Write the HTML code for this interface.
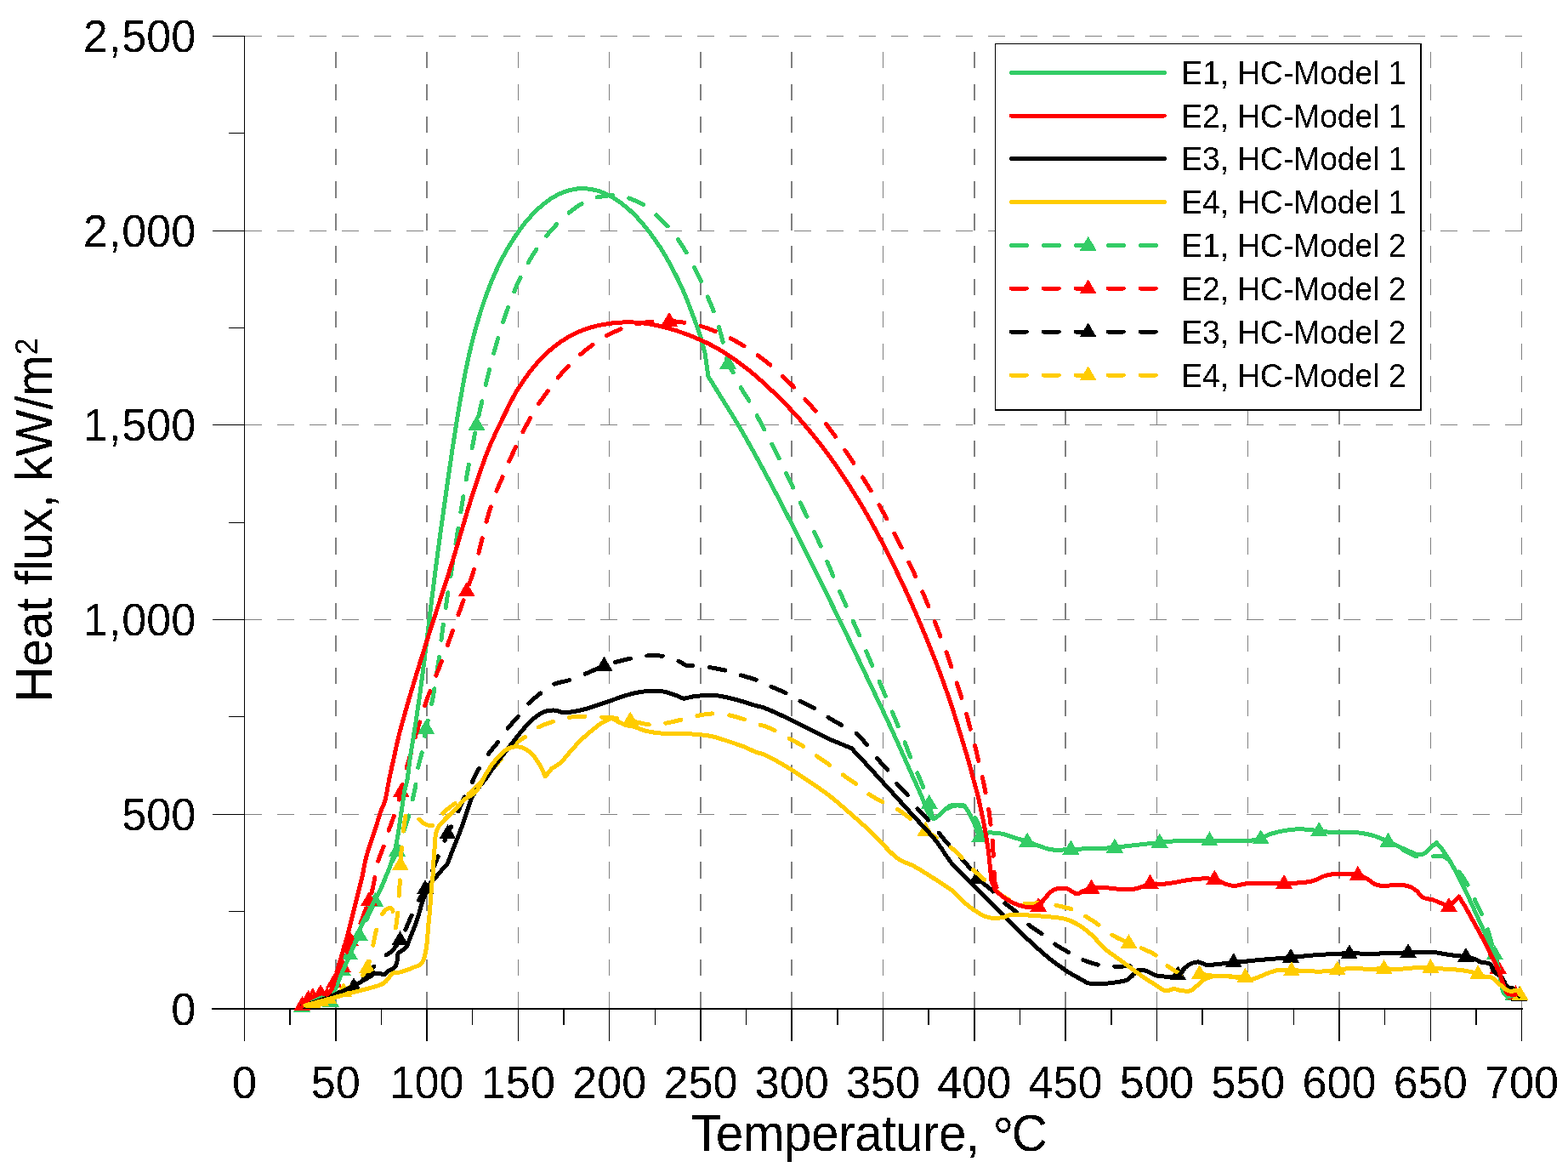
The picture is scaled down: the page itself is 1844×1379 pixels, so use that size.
<!DOCTYPE html>
<html lang="en"><head><meta charset="utf-8"><title>Heat flux vs Temperature</title>
<style>html,body{margin:0;padding:0;background:#fff;}body{width:1844px;height:1379px;overflow:hidden;}svg{display:block;}text{font-family:"Liberation Sans", sans-serif;fill:#000;}</style>
</head><body>
<svg width="1844" height="1379" viewBox="0 0 1844 1379">
<defs><filter id="bw" x="0" y="0" width="1844" height="1379" filterUnits="userSpaceOnUse" color-interpolation-filters="sRGB"><feComponentTransfer><feFuncA type="discrete" tableValues="0 1"/></feComponentTransfer></filter></defs>
<rect x="0" y="0" width="1844" height="1379" fill="#ffffff"/>
<g id="grid" fill="none" stroke="#808080" shape-rendering="crispEdges">
<line x1="288.0" y1="957.5" x2="1790.5" y2="957.5" stroke-width="1" stroke-dasharray="20 18"/>
<line x1="288.0" y1="728.5" x2="1790.5" y2="728.5" stroke-width="1" stroke-dasharray="20 18"/>
<line x1="288.0" y1="499.5" x2="1790.5" y2="499.5" stroke-width="1" stroke-dasharray="20 18"/>
<line x1="288.0" y1="271.5" x2="1790.5" y2="271.5" stroke-width="1" stroke-dasharray="20 18"/>
<line x1="288.0" y1="42.5" x2="1790.5" y2="42.5" stroke-width="1" stroke-dasharray="20 18"/>
<line x1="395.0" y1="1185.0" x2="395.0" y2="42.5" stroke-width="2" stroke-dasharray="19.3 18.8"/>
<line x1="502.0" y1="1185.0" x2="502.0" y2="42.5" stroke-width="2" stroke-dasharray="19.3 18.8"/>
<line x1="609.5" y1="1185.0" x2="609.5" y2="42.5" stroke-width="1" stroke-dasharray="19.3 18.8"/>
<line x1="716.5" y1="1185.0" x2="716.5" y2="42.5" stroke-width="1" stroke-dasharray="19.3 18.8"/>
<line x1="824.0" y1="1185.0" x2="824.0" y2="42.5" stroke-width="2" stroke-dasharray="19.3 18.8"/>
<line x1="931.0" y1="1185.0" x2="931.0" y2="42.5" stroke-width="2" stroke-dasharray="19.3 18.8"/>
<line x1="1038.5" y1="1185.0" x2="1038.5" y2="42.5" stroke-width="1" stroke-dasharray="19.3 18.8"/>
<line x1="1146.0" y1="1185.0" x2="1146.0" y2="42.5" stroke-width="2" stroke-dasharray="19.3 18.8"/>
<line x1="1253.0" y1="1185.0" x2="1253.0" y2="42.5" stroke-width="2" stroke-dasharray="19.3 18.8"/>
<line x1="1360.5" y1="1185.0" x2="1360.5" y2="42.5" stroke-width="1" stroke-dasharray="19.3 18.8"/>
<line x1="1467.5" y1="1185.0" x2="1467.5" y2="42.5" stroke-width="1" stroke-dasharray="19.3 18.8"/>
<line x1="1575.0" y1="1185.0" x2="1575.0" y2="42.5" stroke-width="2" stroke-dasharray="19.3 18.8"/>
<line x1="1682.5" y1="1185.0" x2="1682.5" y2="42.5" stroke-width="1" stroke-dasharray="19.3 18.8"/>
<line x1="1789.5" y1="1185.0" x2="1789.5" y2="42.5" stroke-width="1" stroke-dasharray="19.3 18.8"/>
</g>
<g id="axes" fill="none" stroke="#000" stroke-width="1" shape-rendering="crispEdges">
<line x1="287.5" y1="42.0" x2="287.5" y2="1224.0"/>
<line x1="249.0" y1="1186.0" x2="1790.5" y2="1186.0" stroke-width="2"/>
<line x1="268.5" y1="1071.5" x2="288.0" y2="1071.5"/>
<line x1="249.5" y1="957.5" x2="288.0" y2="957.5"/>
<line x1="268.5" y1="842.5" x2="288.0" y2="842.5"/>
<line x1="249.5" y1="728.5" x2="288.0" y2="728.5"/>
<line x1="268.5" y1="614.5" x2="288.0" y2="614.5"/>
<line x1="249.5" y1="499.5" x2="288.0" y2="499.5"/>
<line x1="268.5" y1="385.5" x2="288.0" y2="385.5"/>
<line x1="249.5" y1="271.5" x2="288.0" y2="271.5"/>
<line x1="268.5" y1="156.5" x2="288.0" y2="156.5"/>
<line x1="249.5" y1="42.5" x2="288.0" y2="42.5"/>
<line x1="341.0" y1="1186.0" x2="341.0" y2="1205.0" stroke-width="2"/>
<line x1="395.0" y1="1186.0" x2="395.0" y2="1224.0" stroke-width="2"/>
<line x1="448.5" y1="1186.0" x2="448.5" y2="1205.0" stroke-width="1"/>
<line x1="502.0" y1="1186.0" x2="502.0" y2="1224.0" stroke-width="2"/>
<line x1="555.5" y1="1186.0" x2="555.5" y2="1205.0" stroke-width="1"/>
<line x1="609.5" y1="1186.0" x2="609.5" y2="1224.0" stroke-width="1"/>
<line x1="663.0" y1="1186.0" x2="663.0" y2="1205.0" stroke-width="2"/>
<line x1="716.5" y1="1186.0" x2="716.5" y2="1224.0" stroke-width="1"/>
<line x1="770.5" y1="1186.0" x2="770.5" y2="1205.0" stroke-width="1"/>
<line x1="824.0" y1="1186.0" x2="824.0" y2="1224.0" stroke-width="2"/>
<line x1="877.5" y1="1186.0" x2="877.5" y2="1205.0" stroke-width="1"/>
<line x1="931.0" y1="1186.0" x2="931.0" y2="1224.0" stroke-width="2"/>
<line x1="985.0" y1="1186.0" x2="985.0" y2="1205.0" stroke-width="2"/>
<line x1="1038.5" y1="1186.0" x2="1038.5" y2="1224.0" stroke-width="1"/>
<line x1="1092.0" y1="1186.0" x2="1092.0" y2="1205.0" stroke-width="2"/>
<line x1="1146.0" y1="1186.0" x2="1146.0" y2="1224.0" stroke-width="2"/>
<line x1="1199.5" y1="1186.0" x2="1199.5" y2="1205.0" stroke-width="1"/>
<line x1="1253.0" y1="1186.0" x2="1253.0" y2="1224.0" stroke-width="2"/>
<line x1="1307.0" y1="1186.0" x2="1307.0" y2="1205.0" stroke-width="2"/>
<line x1="1360.5" y1="1186.0" x2="1360.5" y2="1224.0" stroke-width="1"/>
<line x1="1414.0" y1="1186.0" x2="1414.0" y2="1205.0" stroke-width="2"/>
<line x1="1467.5" y1="1186.0" x2="1467.5" y2="1224.0" stroke-width="1"/>
<line x1="1521.5" y1="1186.0" x2="1521.5" y2="1205.0" stroke-width="1"/>
<line x1="1575.0" y1="1186.0" x2="1575.0" y2="1224.0" stroke-width="2"/>
<line x1="1628.5" y1="1186.0" x2="1628.5" y2="1205.0" stroke-width="1"/>
<line x1="1682.5" y1="1186.0" x2="1682.5" y2="1224.0" stroke-width="1"/>
<line x1="1736.0" y1="1186.0" x2="1736.0" y2="1205.0" stroke-width="2"/>
<line x1="1789.5" y1="1186.0" x2="1789.5" y2="1224.0" stroke-width="1"/>
</g>
<g id="ticklabels" filter="url(#bw)">
<text transform="translate(230.30 1204.60) scale(1 1.045)" font-size="52.2" text-anchor="end">0</text>
<text transform="translate(230.30 975.90) scale(1 1.045)" font-size="52.2" text-anchor="end">500</text>
<text transform="translate(230.30 747.20) scale(1 1.045)" font-size="52.2" text-anchor="end"><tspan letter-spacing="1">1,</tspan>000</text>
<text transform="translate(230.30 518.50) scale(1 1.045)" font-size="52.2" text-anchor="end"><tspan letter-spacing="1">1,</tspan>500</text>
<text transform="translate(230.30 289.80) scale(1 1.045)" font-size="52.2" text-anchor="end"><tspan letter-spacing="1">2,</tspan>000</text>
<text transform="translate(230.30 61.10) scale(1 1.045)" font-size="52.2" text-anchor="end"><tspan letter-spacing="1">2,</tspan>500</text>
<text transform="translate(287.50 1290.50) scale(1 1.045)" font-size="52.2" text-anchor="middle">0</text>
<text transform="translate(394.79 1290.50) scale(1 1.045)" font-size="52.2" text-anchor="middle">50</text>
<text transform="translate(502.08 1290.50) scale(1 1.045)" font-size="52.2" text-anchor="middle">100</text>
<text transform="translate(609.37 1290.50) scale(1 1.045)" font-size="52.2" text-anchor="middle">150</text>
<text transform="translate(716.66 1290.50) scale(1 1.045)" font-size="52.2" text-anchor="middle">200</text>
<text transform="translate(823.95 1290.50) scale(1 1.045)" font-size="52.2" text-anchor="middle">250</text>
<text transform="translate(931.24 1290.50) scale(1 1.045)" font-size="52.2" text-anchor="middle">300</text>
<text transform="translate(1038.53 1290.50) scale(1 1.045)" font-size="52.2" text-anchor="middle">350</text>
<text transform="translate(1145.82 1290.50) scale(1 1.045)" font-size="52.2" text-anchor="middle">400</text>
<text transform="translate(1253.11 1290.50) scale(1 1.045)" font-size="52.2" text-anchor="middle">450</text>
<text transform="translate(1360.40 1290.50) scale(1 1.045)" font-size="52.2" text-anchor="middle">500</text>
<text transform="translate(1467.69 1290.50) scale(1 1.045)" font-size="52.2" text-anchor="middle">550</text>
<text transform="translate(1574.98 1290.50) scale(1 1.045)" font-size="52.2" text-anchor="middle">600</text>
<text transform="translate(1682.27 1290.50) scale(1 1.045)" font-size="52.2" text-anchor="middle">650</text>
<text transform="translate(1789.56 1290.50) scale(1 1.045)" font-size="52.2" text-anchor="middle">700</text>
</g>
<g id="titles" filter="url(#bw)">
<text transform="translate(1022.30 1353.20) scale(1 1.045)" font-size="58.5" text-anchor="middle" id="xtitle" letter-spacing="-0.5">Temperature, <tspan font-size="63" dy="6.5" dx="-0.2">°</tspan><tspan dy="-6.5" dx="-2.2">C</tspan></text>
<text transform="translate(61.30 611.60) rotate(-90) scale(1 1.045)" font-size="58.5" text-anchor="middle" id="ytitle" letter-spacing="-0.3">Heat flux, kW/m<tspan font-size="36" dy="-16.6">2</tspan></text>
</g>
<g id="curves" shape-rendering="crispEdges" fill="none" stroke-width="5.0" stroke-linejoin="round" stroke-linecap="round">
<path d="M354.9 1183.8 C357.1 1183.4 364.1 1182.2 368.0 1181.5 C371.9 1180.8 374.6 1180.2 378.0 1179.5 C381.4 1178.8 385.9 1179.7 388.7 1177.3 C391.5 1174.9 393.3 1169.2 395.0 1165.0 C396.7 1160.8 397.7 1156.0 399.0 1152.0 C400.3 1148.0 401.7 1144.5 403.0 1141.0 C404.3 1137.5 405.7 1134.2 407.0 1131.0 C408.3 1127.8 409.4 1125.3 411.0 1122.0 C412.6 1118.7 414.6 1114.8 416.5 1111.0 C418.4 1107.2 420.0 1104.6 422.6 1099.3 C425.2 1094.0 428.9 1085.6 432.0 1079.0 C435.1 1072.4 438.2 1066.0 441.2 1059.5 C444.2 1053.0 447.2 1046.6 450.0 1040.0 C452.8 1033.4 455.2 1026.6 458.0 1020.0 C460.8 1013.4 464.7 1006.2 467.0 1000.4 C469.3 994.6 470.6 989.2 472.0 985.0 C473.4 980.8 474.0 979.5 475.5 975.0 C477.0 970.5 479.4 963.7 481.0 958.0 C482.6 952.3 483.8 946.5 485.0 941.0 C486.2 935.5 487.4 931.2 488.5 925.0 C489.6 918.8 490.0 910.6 491.4 903.6 C492.8 896.6 495.0 890.6 496.6 882.7 C498.2 874.8 499.1 866.4 501.1 856.4 C503.1 846.4 506.7 832.0 508.6 822.6 C510.4 813.2 511.1 808.0 512.3 800.1 C513.6 792.2 514.7 785.1 516.1 775.1 C517.5 765.1 519.1 750.6 520.5 740.2 C521.9 729.8 523.4 720.2 524.5 712.7 C525.6 705.2 525.8 703.4 527.1 695.0 C528.4 686.7 530.3 675.0 532.3 662.5 C534.3 650.1 537.1 632.2 539.0 620.1 C540.9 608.0 541.9 601.3 543.8 590.0 C545.6 578.8 548.1 564.2 550.2 552.6 C552.3 540.9 554.8 528.9 556.5 520.0 C558.2 511.2 558.9 507.0 560.5 499.5 C562.1 492.0 563.9 484.6 566.1 475.1 C568.3 465.6 570.8 453.8 573.6 442.6 C576.4 431.3 579.6 418.9 582.8 407.7 C586.0 396.4 589.4 385.2 592.7 375.2 C596.1 365.2 599.7 355.6 602.8 347.7 C605.9 339.7 608.2 334.2 611.4 327.6 C614.5 320.9 618.1 314.0 621.7 307.8 C625.3 301.6 629.1 295.8 632.9 290.3 C636.8 284.8 640.9 279.4 644.8 274.8 C648.7 270.1 651.9 266.5 656.2 262.2 C660.5 257.9 666.0 252.8 670.6 249.0 C675.3 245.2 678.9 242.3 684.1 239.5 C689.3 236.6 695.3 233.7 701.8 232.1 C708.2 230.4 716.3 229.5 722.7 229.7 C729.0 229.8 734.2 231.0 739.9 233.0 C745.7 234.9 752.1 238.0 757.3 241.2 C762.5 244.5 766.7 248.3 771.4 252.4 C776.0 256.6 781.1 261.4 785.3 266.1 C789.6 270.9 793.1 275.6 796.9 281.0 C800.7 286.3 804.6 292.4 808.0 298.1 C811.3 303.7 813.9 309.0 816.9 314.9 C819.9 320.8 823.1 327.7 825.7 333.6 C828.4 339.4 830.3 344.5 832.7 350.1 C835.1 355.8 837.8 361.7 839.9 367.6 C842.1 373.4 843.9 379.1 845.7 385.2 C847.5 391.3 848.9 396.9 850.6 404.0 C852.4 411.0 854.2 421.7 856.2 427.5 C858.2 433.3 860.1 433.9 862.7 438.7 C865.3 443.6 868.6 451.0 871.7 456.6 C874.9 462.2 878.4 466.8 881.6 472.4 C884.8 478.0 888.0 484.5 891.0 490.2 C894.0 495.9 896.8 501.0 899.7 506.5 C902.6 512.0 905.5 517.7 908.4 523.4 C911.3 529.1 914.1 534.8 916.9 540.5 C919.7 546.2 922.4 551.8 925.2 557.6 C928.0 563.3 931.2 569.4 933.9 575.1 C936.6 580.7 938.7 585.7 941.3 591.4 C944.0 597.0 947.1 603.2 949.9 609.0 C952.6 614.8 955.3 620.4 958.0 626.2 C960.7 632.0 963.5 638.1 966.0 644.0 C968.6 650.0 970.9 655.9 973.3 661.6 C975.8 667.4 978.1 672.8 980.5 678.6 C983.0 684.3 985.4 690.2 987.9 696.1 C990.5 702.0 993.2 708.1 995.9 714.0 C998.5 719.9 1001.1 725.5 1003.7 731.3 C1006.3 737.1 1008.9 742.9 1011.5 748.7 C1014.0 754.5 1016.5 760.6 1018.9 766.3 C1021.3 771.9 1023.5 776.9 1026.0 782.7 C1028.5 788.5 1031.5 795.2 1034.1 801.2 C1036.7 807.2 1039.1 812.9 1041.6 818.8 C1044.1 824.7 1046.6 830.6 1049.0 836.5 C1051.5 842.3 1053.8 847.7 1056.3 853.8 C1058.8 859.8 1061.5 866.6 1064.0 872.7 C1066.4 878.7 1068.4 884.3 1070.8 890.1 C1073.2 896.0 1075.9 901.8 1078.3 907.6 C1080.8 913.5 1083.2 919.0 1085.6 925.1 C1088.0 931.3 1090.8 938.6 1092.8 944.7 C1094.8 950.8 1095.5 959.9 1097.5 962.0 C1099.5 964.1 1102.1 959.5 1105.0 957.5 C1107.9 955.5 1111.7 951.8 1115.0 950.0 C1118.3 948.2 1121.8 947.2 1125.0 947.0 C1128.2 946.8 1131.3 947.5 1134.0 948.5 C1136.7 949.5 1139.0 951.1 1141.0 953.0 C1143.0 954.9 1144.5 957.5 1146.0 960.0 C1147.5 962.5 1148.8 965.3 1150.0 968.0 C1151.2 970.7 1152.6 973.4 1153.0 976.0 C1153.4 978.6 1152.4 982.2 1152.3 983.5 L1163.1 978.7 C1165.7 979.0 1173.8 979.3 1178.7 980.3 C1183.6 981.3 1187.5 983.1 1192.4 984.6 C1197.3 986.1 1203.2 987.9 1208.1 989.5 C1213.0 991.1 1217.6 992.9 1221.8 994.4 C1226.0 995.9 1229.6 997.5 1233.5 998.3 C1237.5 999.1 1241.0 999.3 1245.3 999.3 C1249.6 999.3 1254.2 998.5 1259.4 998.3 C1264.6 998.1 1270.5 998.1 1276.6 997.9 C1282.7 997.7 1290.5 997.6 1296.2 997.3 C1301.9 997.1 1305.6 996.8 1310.9 996.3 C1316.1 995.9 1321.8 995.0 1327.5 994.4 C1333.2 993.7 1339.1 993.1 1345.1 992.4 C1351.2 991.8 1357.8 991.1 1363.7 990.5 C1369.6 989.9 1373.7 989.2 1380.4 988.9 C1387.0 988.6 1396.8 988.6 1403.8 988.5 C1410.9 988.4 1415.9 988.2 1422.4 988.1 C1429.0 988.1 1436.3 988.1 1443.0 988.1 C1449.7 988.2 1458.1 988.5 1462.6 988.5 C1467.1 988.6 1466.6 988.9 1470.0 988.5 C1473.4 988.1 1478.8 987.3 1482.7 986.0 C1486.6 984.7 1489.1 982.2 1493.5 980.7 C1497.9 979.2 1503.3 977.7 1509.2 976.8 C1515.0 975.8 1521.7 974.8 1528.7 974.8 C1535.7 974.8 1544.7 976.1 1551.2 976.8 C1557.8 977.4 1561.8 978.5 1567.9 978.7 C1573.9 979.0 1581.6 978.2 1587.5 978.3 C1593.3 978.5 1597.9 978.8 1603.1 979.7 C1608.3 980.6 1613.9 982.0 1618.8 983.6 C1623.7 985.3 1627.9 987.3 1632.5 989.5 C1637.0 991.7 1641.9 994.6 1646.2 996.9 C1650.4 999.2 1654.3 1001.7 1657.9 1003.4 C1661.5 1005.1 1664.5 1006.6 1667.7 1007.3 C1671.0 1008.0 1674.0 1007.9 1677.5 1007.7 C1681.0 1007.5 1685.2 1006.6 1688.5 1006.3 C1691.7 1006.1 1695.6 1006.3 1697.1 1006.3 L1704.9 1011.6 C1707.2 1014.5 1714.5 1022.9 1718.6 1028.6 C1722.7 1034.4 1726.4 1040.7 1729.4 1046.3 C1732.3 1051.8 1733.6 1056.2 1736.2 1061.9 C1738.8 1067.6 1742.6 1074.6 1745.0 1080.5 C1747.5 1086.4 1748.8 1090.3 1750.9 1097.2 C1753.0 1104.0 1755.9 1115.3 1757.8 1121.6 C1759.6 1127.9 1760.8 1130.8 1762.0 1135.0 C1763.2 1139.2 1764.2 1143.2 1765.0 1147.0 C1765.8 1150.8 1766.2 1154.7 1767.0 1158.0 C1767.8 1161.3 1768.5 1164.8 1769.5 1167.0 C1770.5 1169.2 1771.3 1170.5 1773.0 1171.0 C1774.7 1171.5 1778.4 1170.2 1779.5 1170.0" stroke="#33CC66" stroke-dasharray="18.3 19.8 18.3 19.8 18.3 19.8 18.3 19.8 18.3 19.8 18.3 19.8 18.3 19.8 18.3 19.8 18.3 19.8 18.3 19.8 18.3 19.8 18.3 19.8 18.3 19.8 18.3 19.8 18.3 19.8 18.3 19.8 18.3 19.8 18.3 19.8 18.3 19.8 18.3 19.8 18.3 19.8 18.3 19.8 18.3 19.8 18.3 19.8 18.3 19.8 18.3 19.8 18.3 19.8 18.3 19.8 18.3 19.8 18.3 19.8 18.3 19.8 18.3 19.8 18.3 19.8 18.3 19.8 18.3 19.8 18.3 19.8 18.3 19.8 18.3 19.8 18.3 19.8 18.3 19.8 18.3 19.8 18.3 19.8 18.3 19.8 18.3 19.8 18.3 20.5 18.3 20.5 18.3 20.5 18.3 20.5 18.3 20.5 18.3 20.5 18.3 20.5 18.3 20.5 18.3 19.7 18.3 19.7 18.3 19.7 18.3 19.7 18.3 19.7 18.3 19.7 18.3 19.7 18.3 19.7 18.3 19.7 18.3 19.7 18.3 19.7 18.3 19.7 18.3 19.7 18.3 19.7 18.3 19.7 18.3 19.8 18.3 19.8 18.3 19.8 18.3 19.8 18.3 19.8 18.3 19.8 18.3 20000.0" stroke-dashoffset="13.1"/>
<g stroke="none">
<polygon points="354.9,1173.0 344.9,1190.0 364.9,1190.0" fill="#33CC66"/>
<polygon points="388.7,1166.5 378.7,1183.5 398.7,1183.5" fill="#33CC66"/>
<polygon points="403.0,1130.2 393.0,1147.2 413.0,1147.2" fill="#33CC66"/>
<polygon points="411.0,1111.2 401.0,1128.2 421.0,1128.2" fill="#33CC66"/>
<polygon points="422.6,1088.5 412.6,1105.5 432.6,1105.5" fill="#33CC66"/>
<polygon points="441.2,1048.7 431.2,1065.7 451.2,1065.7" fill="#33CC66"/>
<polygon points="467.0,989.6 457.0,1006.6 477.0,1006.6" fill="#33CC66"/>
<polygon points="501.1,845.6 491.1,862.6 511.1,862.6" fill="#33CC66"/>
<polygon points="560.5,488.7 550.5,505.7 570.5,505.7" fill="#33CC66"/>
<polygon points="856.2,416.7 846.2,433.7 866.2,433.7" fill="#33CC66"/>
<polygon points="1092.8,933.9 1082.8,950.9 1102.8,950.9" fill="#33CC66"/>
<polygon points="1152.3,972.7 1142.3,989.7 1162.3,989.7" fill="#33CC66"/>
<polygon points="1208.1,978.7 1198.1,995.7 1218.1,995.7" fill="#33CC66"/>
<polygon points="1259.4,987.5 1249.4,1004.5 1269.4,1004.5" fill="#33CC66"/>
<polygon points="1310.9,985.5 1300.9,1002.5 1320.9,1002.5" fill="#33CC66"/>
<polygon points="1363.7,979.7 1353.7,996.7 1373.7,996.7" fill="#33CC66"/>
<polygon points="1422.4,977.3 1412.4,994.3 1432.4,994.3" fill="#33CC66"/>
<polygon points="1482.7,975.2 1472.7,992.2 1492.7,992.2" fill="#33CC66"/>
<polygon points="1551.2,966.0 1541.2,983.0 1561.2,983.0" fill="#33CC66"/>
<polygon points="1632.5,978.7 1622.5,995.7 1642.5,995.7" fill="#33CC66"/>
<polygon points="1757.8,1110.8 1747.8,1127.8 1767.8,1127.8" fill="#33CC66"/>
<polygon points="1779.5,1159.2 1769.5,1176.2 1789.5,1176.2" fill="#33CC66"/>
</g>
<path d="M355.5 1181.8 C356.7 1180.6 360.6 1176.3 362.6 1174.7 C364.7 1173.1 365.4 1173.1 367.8 1172.0 C370.2 1170.9 374.2 1168.2 377.0 1168.0 C379.8 1167.8 382.8 1171.5 384.8 1171.0 C386.8 1170.5 387.6 1167.7 389.0 1165.0 C390.4 1162.3 391.5 1158.2 393.0 1155.0 C394.5 1151.8 396.3 1149.0 398.0 1146.0 C399.7 1143.0 401.3 1141.3 403.0 1137.0 C404.7 1132.7 406.5 1125.2 408.0 1120.0 C409.5 1114.8 410.3 1110.2 412.0 1106.0 C413.7 1101.8 416.1 1098.2 418.0 1095.0 C419.9 1091.8 421.5 1090.9 423.5 1086.6 C425.5 1082.3 428.2 1073.7 430.0 1069.0 C431.8 1064.3 432.8 1061.9 434.0 1058.7 C435.2 1055.5 435.8 1054.6 437.0 1050.0 C438.2 1045.4 439.8 1037.1 441.0 1031.0 C442.2 1024.9 442.7 1019.7 444.4 1013.6 C446.1 1007.5 449.3 1000.4 451.3 994.4 C453.3 988.4 454.6 983.8 456.6 977.9 C458.6 972.0 461.0 966.5 463.5 958.7 C466.0 950.9 469.5 940.0 471.8 931.0 C474.1 922.0 475.6 912.6 477.5 905.0 C479.4 897.4 481.6 891.6 483.4 885.1 C485.2 878.6 486.8 872.1 488.5 865.9 C490.3 859.7 492.0 853.7 493.8 847.9 C495.5 842.1 497.6 835.8 499.1 831.2 C500.6 826.6 500.5 826.3 502.8 820.2 C505.0 814.2 509.8 802.0 512.4 795.1 C515.1 788.2 516.6 784.8 518.8 778.9 C521.0 773.0 523.7 766.0 525.8 760.0 C528.0 754.0 529.8 748.9 531.9 742.8 C534.1 736.8 536.8 728.8 538.6 723.8 C540.4 718.8 541.0 717.4 542.7 712.7 C544.4 707.9 546.4 701.7 548.8 695.0 C551.1 688.3 554.4 679.5 556.6 672.4 C558.9 665.4 560.7 658.7 562.3 652.5 C564.0 646.3 565.0 641.4 566.6 635.1 C568.1 628.9 569.8 621.3 571.5 615.1 C573.2 608.9 574.6 603.9 576.6 597.6 C578.7 591.4 581.5 583.4 583.8 577.5 C586.1 571.7 587.9 568.0 590.2 562.6 C592.5 557.2 594.9 551.3 597.6 545.0 C600.4 538.7 604.0 530.8 606.8 524.7 C609.7 518.5 612.0 513.6 614.8 508.1 C617.6 502.5 620.8 496.6 623.7 491.3 C626.7 486.0 629.2 481.5 632.5 476.3 C635.9 471.2 640.2 465.4 643.9 460.2 C647.7 455.0 651.0 450.1 655.2 445.1 C659.3 440.1 664.3 434.6 668.8 430.0 C673.2 425.4 677.2 421.5 681.8 417.5 C686.3 413.5 691.0 409.7 696.2 406.0 C701.3 402.2 707.0 398.2 712.7 395.0 C718.4 391.8 724.9 388.9 730.4 386.7 C735.8 384.5 739.3 383.1 745.3 381.7 C751.3 380.3 759.4 378.8 766.4 378.1 C773.3 377.4 780.5 377.3 787.0 377.5 C793.5 377.7 799.3 378.3 805.2 379.3 C811.2 380.2 816.8 381.4 822.6 383.0 C828.4 384.6 834.0 386.6 839.9 389.0 C845.7 391.3 852.1 394.2 857.7 397.1 C863.4 399.9 868.6 402.9 873.9 406.1 C879.2 409.4 884.5 413.0 889.7 416.7 C894.9 420.4 900.1 424.3 905.0 428.4 C909.9 432.4 914.3 436.5 919.1 440.9 C923.9 445.4 929.1 450.6 933.7 455.2 C938.2 459.8 942.2 464.2 946.3 468.8 C950.5 473.4 954.6 477.9 958.7 482.7 C962.7 487.4 966.6 492.2 970.5 497.3 C974.4 502.3 978.5 507.8 982.2 512.9 C985.9 517.9 988.9 522.3 992.6 527.6 C996.2 533.0 1000.6 539.5 1004.1 544.9 C1007.7 550.3 1010.6 554.9 1013.9 560.1 C1017.1 565.4 1020.6 570.9 1023.9 576.4 C1027.2 581.8 1030.4 587.2 1033.5 592.8 C1036.7 598.4 1039.8 604.5 1042.8 610.0 C1045.8 615.6 1048.6 620.7 1051.5 626.4 C1054.4 632.0 1057.4 638.2 1060.3 643.8 C1063.1 649.5 1065.8 654.8 1068.5 660.4 C1071.2 665.9 1073.9 671.4 1076.6 677.4 C1079.4 683.4 1082.4 690.2 1085.1 696.3 C1087.7 702.4 1090.1 708.2 1092.4 713.8 C1094.8 719.5 1096.7 724.1 1099.0 730.0 C1101.3 735.8 1103.9 742.8 1106.2 748.8 C1108.5 754.9 1110.7 760.4 1112.8 766.3 C1114.9 772.1 1116.9 778.0 1118.9 783.8 C1120.9 789.7 1122.8 795.4 1124.8 801.4 C1126.8 807.4 1128.8 813.9 1130.7 819.9 C1132.5 826.0 1134.3 831.4 1136.1 837.7 C1137.8 844.0 1139.8 851.3 1141.4 857.6 C1143.1 863.8 1144.7 869.1 1146.2 875.2 C1147.7 881.2 1149.2 887.7 1150.6 893.8 C1152.1 899.8 1153.5 905.2 1154.8 911.5 C1156.2 917.7 1157.7 924.9 1159.0 931.4 C1160.2 937.8 1161.5 944.2 1162.5 950.2 C1163.5 956.1 1164.1 961.2 1164.8 967.0 C1165.5 972.7 1166.5 978.7 1167.0 984.6 C1167.5 990.5 1167.6 996.0 1168.0 1002.2 C1168.3 1008.4 1168.7 1016.2 1168.9 1021.8 C1169.2 1027.3 1169.4 1033.2 1169.5 1035.5 L1173.8 1048.2 C1175.0 1049.4 1177.6 1052.8 1180.7 1055.1 C1183.8 1057.4 1188.5 1060.1 1192.4 1061.9 C1196.3 1063.7 1200.6 1065.0 1204.2 1065.8 C1207.8 1066.7 1211.1 1066.8 1214.0 1066.8 C1216.8 1066.8 1218.6 1067.8 1221.2 1065.8 C1223.8 1063.9 1226.9 1058.2 1229.6 1055.1 C1232.3 1052.0 1234.8 1049.0 1237.5 1047.2 C1240.1 1045.4 1242.3 1044.7 1245.3 1044.3 C1248.2 1043.9 1252.5 1044.2 1255.1 1044.9 C1257.7 1045.5 1259.0 1047.2 1260.9 1048.2 C1262.9 1049.2 1264.5 1050.9 1266.8 1050.8 C1269.1 1050.6 1271.9 1048.3 1274.6 1047.2 C1277.4 1046.2 1279.9 1044.9 1283.5 1044.3 C1287.0 1043.7 1292.1 1043.7 1296.2 1043.7 C1300.3 1043.7 1303.7 1043.9 1307.9 1044.3 C1312.2 1044.7 1317.1 1045.8 1321.6 1045.9 C1326.2 1046.0 1331.4 1045.6 1335.3 1044.9 C1339.2 1044.2 1342.3 1042.8 1345.1 1041.8 C1348.0 1040.7 1349.3 1038.8 1352.6 1038.4 C1355.8 1038.0 1360.4 1039.5 1364.7 1039.4 C1369.0 1039.3 1373.5 1038.8 1378.4 1038.0 C1383.3 1037.3 1388.8 1035.9 1394.1 1035.1 C1399.3 1034.3 1404.0 1033.4 1409.7 1033.1 C1415.4 1032.9 1423.4 1032.7 1428.3 1033.5 C1433.2 1034.4 1435.3 1037.1 1439.1 1038.4 C1442.8 1039.7 1446.9 1041.2 1450.8 1041.4 C1454.7 1041.5 1459.4 1039.9 1462.6 1039.4 C1465.8 1038.9 1465.5 1038.6 1470.0 1038.4 C1474.5 1038.3 1482.9 1038.4 1489.6 1038.4 C1496.3 1038.5 1503.6 1038.9 1510.1 1038.8 C1516.7 1038.7 1523.0 1038.4 1528.7 1037.8 C1534.4 1037.3 1539.5 1036.9 1544.4 1035.5 C1549.3 1034.1 1553.5 1031.0 1558.1 1029.6 C1562.7 1028.3 1566.9 1027.6 1571.8 1027.3 C1576.7 1026.9 1583.3 1027.4 1587.5 1027.7 C1591.6 1027.9 1593.6 1027.8 1596.9 1028.6 C1600.1 1029.5 1603.7 1030.8 1607.0 1032.6 C1610.4 1034.4 1613.6 1037.9 1616.8 1039.4 C1620.1 1040.9 1621.7 1041.2 1626.6 1041.4 C1631.5 1041.5 1641.0 1040.2 1646.2 1040.4 C1651.4 1040.6 1654.7 1041.2 1657.9 1042.3 C1661.2 1043.5 1663.1 1045.1 1665.8 1047.2 C1668.4 1049.4 1670.3 1053.3 1673.6 1055.1 C1676.9 1056.9 1681.7 1056.9 1685.3 1058.0 C1688.9 1059.2 1692.0 1060.6 1695.1 1061.9 C1698.2 1063.2 1702.5 1065.2 1703.9 1065.8 L1715.7 1054.1 L1722.5 1064.9 C1724.2 1067.8 1728.7 1076.0 1732.3 1082.5 C1735.9 1089.0 1740.5 1097.2 1744.1 1104.0 C1747.7 1110.9 1750.9 1117.9 1753.8 1123.6 C1756.8 1129.3 1759.6 1133.4 1761.7 1138.3 C1763.8 1143.2 1765.2 1149.0 1766.5 1153.0 C1767.8 1157.0 1768.6 1159.6 1769.5 1162.0 C1770.4 1164.4 1770.9 1166.3 1772.0 1167.5 C1773.1 1168.7 1774.2 1168.8 1776.0 1169.0 C1777.8 1169.2 1781.4 1169.0 1782.5 1169.0" stroke="#FF0000" stroke-dasharray="18.3 19.8 18.3 19.8 18.3 19.8 18.3 19.8 18.3 19.8 18.3 19.8 18.3 19.8 18.3 19.8 18.3 19.8 18.3 19.8 18.3 19.8 18.3 19.8 18.3 19.8 18.3 19.8 18.3 19.8 18.3 19.8 18.3 19.8 18.3 19.8 18.3 19.8 18.3 19.8 18.3 19.7 18.3 19.7 18.3 19.7 18.3 19.7 18.3 19.7 18.3 19.7 18.3 19.7 18.3 19.7 18.3 19.7 18.3 19.7 18.3 19.7 18.3 19.7 18.3 19.7 18.3 19.7 18.3 19.7 18.3 19.7 18.3 19.7 18.3 19.7 18.3 19.7 18.3 20.0 18.3 20.0 18.3 20.0 18.3 20.0 18.3 20.0 18.3 20.0 18.3 18.8 18.3 18.8 18.3 19.8 18.3 19.8 18.3 19.8 18.3 19.8 18.3 19.8 18.3 19.8 18.3 19.8 18.3 19.8 18.3 19.8 18.3 19.8 18.3 19.8 18.3 19.8 18.3 19.8 18.3 19.8 18.3 19.8 18.3 19.8 18.3 19.8 18.3 19.8 18.3 19.8 18.3 19.8 18.3 20000.0" stroke-dashoffset="22.9"/>
<g stroke="none">
<polygon points="355.5,1171.0 345.5,1188.0 365.5,1188.0" fill="#FF0000"/>
<polygon points="362.6,1163.9 352.6,1180.9 372.6,1180.9" fill="#FF0000"/>
<polygon points="367.8,1161.2 357.8,1178.2 377.8,1178.2" fill="#FF0000"/>
<polygon points="377.0,1157.2 367.0,1174.2 387.0,1174.2" fill="#FF0000"/>
<polygon points="384.8,1160.2 374.8,1177.2 394.8,1177.2" fill="#FF0000"/>
<polygon points="393.0,1144.2 383.0,1161.2 403.0,1161.2" fill="#FF0000"/>
<polygon points="403.0,1126.2 393.0,1143.2 413.0,1143.2" fill="#FF0000"/>
<polygon points="412.0,1095.2 402.0,1112.2 422.0,1112.2" fill="#FF0000"/>
<polygon points="434.0,1047.9 424.0,1064.9 444.0,1064.9" fill="#FF0000"/>
<polygon points="471.8,920.2 461.8,937.2 481.8,937.2" fill="#FF0000"/>
<polygon points="548.8,684.2 538.8,701.2 558.8,701.2" fill="#FF0000"/>
<polygon points="787.0,366.7 777.0,383.7 797.0,383.7" fill="#FF0000"/>
<polygon points="1221.2,1055.0 1211.2,1072.0 1231.2,1072.0" fill="#FF0000"/>
<polygon points="1283.5,1033.5 1273.5,1050.5 1293.5,1050.5" fill="#FF0000"/>
<polygon points="1352.6,1027.6 1342.6,1044.6 1362.6,1044.6" fill="#FF0000"/>
<polygon points="1428.3,1022.7 1418.3,1039.7 1438.3,1039.7" fill="#FF0000"/>
<polygon points="1510.1,1028.0 1500.1,1045.0 1520.1,1045.0" fill="#FF0000"/>
<polygon points="1596.9,1017.8 1586.9,1034.8 1606.9,1034.8" fill="#FF0000"/>
<polygon points="1703.9,1055.0 1693.9,1072.0 1713.9,1072.0" fill="#FF0000"/>
<polygon points="1761.7,1127.5 1751.7,1144.5 1771.7,1144.5" fill="#FF0000"/>
<polygon points="1782.5,1158.2 1772.5,1175.2 1792.5,1175.2" fill="#FF0000"/>
</g>
<path d="M355.5 1183.0 C357.2 1182.5 361.9 1181.5 366.0 1180.0 C370.1 1178.5 374.3 1176.3 380.0 1174.0 C385.7 1171.7 394.0 1168.3 400.0 1166.0 C406.0 1163.7 411.0 1163.0 416.0 1160.0 C421.0 1157.0 425.2 1153.0 430.0 1148.0 C434.8 1143.0 441.0 1134.2 445.0 1130.0 C449.0 1125.8 451.2 1125.2 454.0 1123.0 C456.8 1120.8 459.2 1120.0 462.0 1117.0 C464.8 1114.0 468.1 1108.9 470.5 1105.0 C472.9 1101.1 474.3 1098.5 476.6 1093.5 C478.9 1088.5 481.8 1081.1 484.4 1075.3 C487.0 1069.5 489.7 1063.8 492.3 1058.7 C494.9 1053.7 497.4 1050.6 500.0 1045.0 C502.6 1039.4 505.3 1031.7 508.0 1025.0 C510.7 1018.3 512.9 1012.5 516.0 1005.0 C519.1 997.5 523.5 986.7 526.5 980.0 C529.5 973.3 530.9 971.7 534.0 965.0 C537.1 958.3 541.5 947.5 545.0 940.0 C548.5 932.5 551.9 926.2 555.0 920.0 C558.1 913.8 560.6 908.2 563.7 902.7 C566.8 897.2 570.2 892.1 573.9 887.0 C577.6 881.9 582.0 877.3 585.9 872.2 C589.7 867.1 593.1 861.4 597.0 856.5 C600.8 851.5 604.8 847.5 609.0 842.6 C613.2 837.7 617.5 831.5 621.9 826.9 C626.4 822.3 631.0 818.6 635.8 814.9 C640.6 811.2 644.7 807.3 650.6 804.7 C656.4 802.1 664.5 801.3 670.9 799.2 C677.4 797.0 682.8 794.5 689.4 791.8 C696.0 789.0 705.0 784.7 710.5 782.5 C716.0 780.3 717.3 780.3 722.7 778.8 C728.1 777.4 736.9 775.1 743.0 773.8 C749.2 772.5 753.5 771.5 759.7 771.1 C765.8 770.7 773.7 770.4 780.0 771.4 C786.3 772.4 793.1 775.2 797.6 777.0 C802.0 778.8 803.6 781.2 806.8 782.2 C810.1 783.1 812.5 782.2 817.0 782.5 C821.5 782.9 827.5 783.4 833.6 784.4 C839.8 785.4 847.8 786.9 854.0 788.4 C860.1 790.0 864.6 791.8 870.6 793.6 C876.6 795.5 884.3 797.4 890.0 799.5 C895.7 801.7 899.2 803.7 905.0 806.3 C910.8 808.9 919.2 812.2 925.0 815.1 C930.9 818.0 934.6 820.9 940.0 823.8 C945.4 826.8 952.1 829.5 957.5 832.6 C963.0 835.7 967.1 839.3 972.5 842.6 C978.0 845.9 984.4 849.5 990.0 852.6 C995.7 855.7 1001.3 857.4 1006.3 861.4 C1011.3 865.3 1016.1 871.6 1020.1 876.4 C1024.0 881.2 1026.1 885.3 1030.1 890.1 C1034.0 894.9 1039.9 900.1 1043.8 905.1 C1047.8 910.1 1049.9 915.1 1053.8 920.1 C1057.8 925.1 1063.4 930.1 1067.6 935.1 C1071.8 940.2 1074.9 945.4 1078.8 950.2 C1082.8 955.0 1087.2 959.1 1091.4 963.9 C1095.5 968.7 1099.7 973.9 1103.9 978.9 C1108.0 983.9 1112.0 989.1 1116.4 993.9 C1120.7 998.8 1125.6 1003.4 1129.8 1008.1 C1134.0 1012.7 1138.3 1017.7 1141.5 1021.8 C1144.8 1025.9 1145.2 1028.4 1149.4 1032.6 C1153.6 1036.8 1161.8 1042.5 1167.0 1047.2 C1172.2 1052.0 1176.1 1056.9 1180.7 1060.9 C1185.3 1065.0 1189.5 1067.3 1194.4 1071.7 C1199.3 1076.1 1204.8 1083.0 1210.0 1087.4 C1215.3 1091.8 1220.7 1094.4 1225.7 1098.1 C1230.8 1101.9 1235.2 1106.3 1240.4 1109.9 C1245.6 1113.5 1251.5 1116.6 1257.0 1119.7 C1262.6 1122.8 1267.8 1126.0 1273.7 1128.5 C1279.5 1130.9 1286.4 1133.1 1292.3 1134.4 C1298.1 1135.7 1302.5 1136.1 1308.9 1136.3 C1315.3 1136.6 1325.7 1135.4 1330.4 1135.9 C1335.2 1136.4 1334.5 1138.4 1337.3 1139.2 C1340.1 1140.1 1343.2 1139.9 1347.1 1141.2 C1351.0 1142.5 1356.2 1145.9 1360.8 1147.1 C1365.4 1148.2 1370.4 1148.2 1374.5 1148.1 C1378.6 1147.9 1382.0 1147.9 1385.3 1146.1 C1388.5 1144.3 1391.3 1139.6 1394.1 1137.3 C1396.8 1135.0 1399.3 1133.4 1401.9 1132.4 C1404.5 1131.4 1406.8 1130.7 1409.7 1131.0 C1412.7 1131.4 1415.6 1134.0 1419.5 1134.4 C1423.4 1134.7 1428.0 1133.9 1433.2 1133.4 C1438.4 1132.8 1445.0 1131.6 1450.8 1131.0 C1456.7 1130.4 1465.3 1130.1 1468.5 1129.9 C1471.6 1129.6 1465.8 1129.9 1470.0 1129.5 C1474.2 1129.1 1485.5 1128.2 1493.5 1127.5 C1501.5 1126.9 1508.8 1126.4 1518.0 1125.5 C1527.1 1124.7 1540.0 1123.3 1548.3 1122.6 C1556.6 1122.0 1561.5 1121.9 1567.9 1121.6 C1574.3 1121.4 1580.3 1121.1 1586.9 1121.0 C1593.4 1121.0 1598.8 1121.3 1607.0 1121.2 C1615.3 1121.2 1628.2 1120.9 1636.4 1120.7 C1644.6 1120.4 1650.1 1120.1 1656.0 1119.9 C1661.8 1119.6 1666.7 1119.2 1671.6 1119.1 C1676.5 1119.0 1680.8 1118.9 1685.3 1119.3 C1689.9 1119.7 1694.5 1120.9 1699.0 1121.6 C1703.6 1122.3 1708.6 1123.1 1712.7 1123.6 C1716.9 1124.1 1720.3 1124.1 1723.9 1124.8 C1727.5 1125.4 1731.2 1126.4 1734.3 1127.5 C1737.3 1128.6 1739.2 1130.5 1742.1 1131.4 C1745.0 1132.3 1749.4 1131.2 1751.9 1133.0 C1754.4 1134.7 1755.3 1139.8 1757.0 1142.0 C1758.7 1144.2 1760.5 1144.8 1762.0 1146.0 C1763.5 1147.2 1764.8 1147.7 1766.0 1149.0 C1767.2 1150.3 1768.1 1152.3 1769.0 1154.0 C1769.9 1155.7 1770.5 1157.8 1771.5 1159.0 C1772.5 1160.2 1773.8 1160.5 1775.0 1161.0 C1776.2 1161.5 1777.7 1161.2 1779.0 1162.0 C1780.3 1162.8 1781.8 1164.5 1783.0 1166.0 C1784.2 1167.5 1785.9 1170.2 1786.5 1171.0" stroke="#000000" stroke-dasharray="18.3 19.8 18.3 19.8 18.3 19.8 18.3 19.8 18.3 19.8 18.3 19.8 18.3 19.8 18.3 19.8 18.3 19.8 18.3 19.8 18.3 19.8 18.3 19.8 18.3 19.8 18.3 19.8 18.3 19.8 18.3 19.8 18.3 19.8 18.3 19.8 18.3 19.8 18.3 19.8 18.3 19.8 18.3 19.8 18.3 19.8 18.3 19.8 18.3 19.8 18.3 19.8 18.3 19.8 18.3 19.6 18.3 19.6 18.3 19.6 18.3 19.6 18.3 19.9 18.3 19.9 18.3 19.9 18.3 19.6 18.3 19.8 18.3 19.8 18.3 19.8 18.3 19.8 18.3 19.8 18.3 19.8 18.3 19.8 18.3 19.8 18.3 19.8 18.3 19.8 18.3 19.8 18.3 19.8 18.3 19.8 18.3 19.8 18.3 20000.0" stroke-dashoffset="34.0"/>
<g stroke="none">
<polygon points="366.0,1169.2 356.0,1186.2 376.0,1186.2" fill="#000000"/>
<polygon points="416.0,1149.2 406.0,1166.2 426.0,1166.2" fill="#000000"/>
<polygon points="470.5,1094.2 460.5,1111.2 480.5,1111.2" fill="#000000"/>
<polygon points="500.0,1034.2 490.0,1051.2 510.0,1051.2" fill="#000000"/>
<polygon points="526.5,969.2 516.5,986.2 536.5,986.2" fill="#000000"/>
<polygon points="710.5,771.7 700.5,788.7 720.5,788.7" fill="#000000"/>
<polygon points="1149.4,1021.8 1139.4,1038.8 1159.4,1038.8" fill="#000000"/>
<polygon points="1385.3,1135.3 1375.3,1152.3 1395.3,1152.3" fill="#000000"/>
<polygon points="1450.8,1120.2 1440.8,1137.2 1460.8,1137.2" fill="#000000"/>
<polygon points="1518.0,1114.7 1508.0,1131.7 1528.0,1131.7" fill="#000000"/>
<polygon points="1586.9,1110.2 1576.9,1127.2 1596.9,1127.2" fill="#000000"/>
<polygon points="1656.0,1109.1 1646.0,1126.1 1666.0,1126.1" fill="#000000"/>
<polygon points="1723.9,1114.0 1713.9,1131.0 1733.9,1131.0" fill="#000000"/>
<polygon points="1786.5,1160.2 1776.5,1177.2 1796.5,1177.2" fill="#000000"/>
</g>
<path d="M360.0 1182.0 C361.2 1181.5 364.7 1179.7 367.5 1178.8 C370.3 1177.9 373.8 1177.3 377.0 1176.5 C380.2 1175.7 382.0 1175.8 386.5 1174.0 C391.0 1172.2 398.8 1168.7 404.0 1165.5 C409.2 1162.3 414.3 1158.1 418.0 1155.0 C421.7 1151.9 423.7 1149.8 426.0 1147.0 C428.3 1144.2 430.2 1142.5 432.0 1138.0 C433.8 1133.5 435.5 1126.3 437.0 1120.0 C438.5 1113.7 439.7 1105.8 441.0 1100.0 C442.3 1094.2 443.5 1089.3 445.0 1085.0 C446.5 1080.7 448.2 1076.8 450.0 1074.0 C451.8 1071.2 454.2 1068.9 456.0 1068.0 C457.8 1067.1 459.7 1066.5 461.0 1068.5 C462.3 1070.5 463.2 1076.2 464.0 1080.0 C464.8 1083.8 465.2 1089.2 465.5 1091.0 L467.5 1075.0 C467.9 1070.8 469.0 1059.7 469.6 1050.0 C470.2 1040.3 470.3 1027.0 470.9 1017.0 C471.5 1007.0 472.3 997.5 473.0 990.0 C473.7 982.5 474.2 977.7 475.0 972.0 C475.8 966.3 477.1 958.7 477.5 956.0 L484.0 958.5 C485.2 959.1 489.2 960.8 491.4 962.2 C493.6 963.6 495.1 965.7 497.0 967.0 C498.9 968.3 500.9 969.4 502.7 970.0 C504.5 970.6 506.3 970.6 508.0 970.5 C509.7 970.4 511.6 970.5 513.1 969.2 C514.6 968.0 515.7 965.2 517.0 963.0 C518.3 960.8 519.0 958.4 521.0 956.1 C523.0 953.8 526.2 951.2 529.0 949.0 C531.8 946.8 534.8 944.9 537.5 943.1 C540.2 941.3 542.1 940.2 545.0 938.0 C547.9 935.8 551.7 933.0 555.0 930.0 C558.3 927.0 561.7 923.7 565.0 920.0 C568.3 916.3 571.8 911.5 575.0 908.0 C578.2 904.5 580.7 902.8 584.0 899.0 C587.3 895.2 591.6 889.0 595.0 885.0 C598.4 881.0 600.7 878.0 604.4 875.0 C608.1 871.9 612.7 869.9 617.3 866.6 C621.9 863.4 626.6 858.6 632.1 855.6 C637.7 852.5 644.6 850.2 650.6 848.2 C656.6 846.2 661.7 844.5 668.2 843.5 C674.6 842.5 683.1 842.3 689.4 842.2 C695.7 842.2 700.8 842.9 706.1 843.2 C711.3 843.4 715.0 843.2 720.8 843.9 C726.7 844.6 734.1 845.9 741.2 847.2 C748.3 848.5 756.6 851.3 763.4 851.9 C770.1 852.4 775.4 851.4 781.9 850.4 C788.3 849.4 796.0 847.4 802.2 845.9 C808.4 844.5 812.8 842.9 818.8 841.7 C824.8 840.5 832.1 839.1 838.2 838.9 C844.4 838.7 849.8 839.3 855.8 840.4 C861.8 841.5 868.1 843.5 874.3 845.4 C880.5 847.3 888.5 850.4 892.8 851.9 C897.1 853.3 896.9 852.7 900.0 853.9 C903.1 855.0 906.9 856.6 911.3 858.9 C915.6 861.1 920.6 864.0 926.3 867.1 C931.9 870.2 939.6 874.2 945.0 877.6 C950.4 881.0 953.8 884.1 958.8 887.6 C963.8 891.2 969.8 895.1 975.0 898.9 C980.3 902.6 984.8 906.4 990.0 910.1 C995.3 913.9 1001.3 917.6 1006.3 921.4 C1011.3 925.1 1014.9 929.1 1020.1 932.6 C1025.3 936.2 1031.9 939.7 1037.6 942.7 C1043.2 945.6 1048.0 946.6 1053.8 950.2 C1059.7 953.7 1066.8 959.5 1072.6 963.9 C1078.4 968.3 1080.6 970.9 1088.5 976.5 C1096.4 982.1 1111.6 990.8 1120.1 997.7 C1128.6 1004.6 1133.1 1011.6 1139.6 1017.9 C1146.1 1024.2 1152.6 1029.6 1159.2 1035.5 C1165.7 1041.4 1172.9 1049.0 1178.7 1053.1 C1184.6 1057.2 1189.5 1058.4 1194.4 1060.0 C1199.3 1061.5 1203.5 1062.2 1208.1 1062.5 C1212.7 1062.8 1216.6 1061.7 1221.8 1061.9 C1227.0 1062.2 1233.1 1062.7 1239.4 1063.9 C1245.8 1065.0 1253.9 1066.7 1260.0 1068.8 C1266.0 1070.9 1270.2 1073.5 1275.6 1076.6 C1281.0 1079.7 1287.2 1083.8 1292.3 1087.4 C1297.3 1091.0 1300.1 1094.6 1306.0 1098.1 C1311.8 1101.7 1321.8 1106.3 1327.5 1108.9 C1333.2 1111.5 1335.0 1111.5 1340.2 1113.8 C1345.4 1116.1 1353.6 1119.2 1358.8 1122.6 C1364.0 1126.0 1366.7 1130.6 1371.5 1134.4 C1376.4 1138.1 1383.5 1142.8 1388.2 1145.1 C1392.9 1147.4 1396.2 1148.1 1399.9 1148.1 C1403.7 1148.1 1406.5 1145.3 1410.7 1145.1 C1414.9 1145.0 1421.0 1146.9 1425.4 1147.1 C1429.8 1147.2 1432.6 1145.8 1437.1 1146.1 C1441.7 1146.4 1448.2 1148.2 1452.8 1148.6 C1457.4 1149.1 1461.7 1148.1 1464.5 1148.6 C1467.4 1149.2 1467.1 1152.1 1470.0 1152.0 C1472.9 1151.9 1477.8 1149.5 1481.7 1148.1 C1485.7 1146.6 1489.6 1144.5 1493.5 1143.2 C1497.4 1141.9 1501.0 1140.6 1505.2 1140.2 C1509.5 1139.9 1514.0 1141.0 1518.9 1141.2 C1523.8 1141.4 1529.4 1141.0 1534.6 1141.2 C1539.8 1141.4 1545.4 1142.2 1550.3 1142.2 C1555.2 1142.2 1560.2 1141.5 1564.0 1141.2 C1567.7 1140.9 1568.2 1140.7 1572.8 1140.2 C1577.3 1139.7 1585.7 1138.4 1591.4 1138.3 C1597.1 1138.1 1601.0 1139.2 1607.0 1139.2 C1613.1 1139.3 1621.1 1138.9 1627.6 1138.9 C1634.1 1138.9 1639.8 1139.4 1646.2 1139.2 C1652.5 1139.1 1659.7 1137.9 1665.8 1137.7 C1671.8 1137.4 1676.9 1137.4 1682.4 1137.7 C1687.9 1137.9 1693.7 1138.8 1699.0 1139.2 C1704.4 1139.7 1709.8 1139.7 1714.7 1140.2 C1719.6 1140.7 1724.5 1141.4 1728.4 1142.2 C1732.3 1143.0 1735.3 1144.2 1738.2 1145.1 C1741.1 1146.1 1743.3 1147.3 1746.0 1148.0 C1748.7 1148.7 1752.1 1148.4 1754.4 1149.3 C1756.7 1150.2 1758.0 1152.0 1759.7 1153.5 C1761.5 1155.0 1762.9 1156.7 1764.9 1158.4 C1766.9 1160.1 1769.8 1162.8 1771.8 1163.9 C1773.8 1165.1 1775.3 1165.2 1777.1 1165.3 C1778.8 1165.4 1780.9 1164.6 1782.3 1164.6 C1783.7 1164.6 1784.6 1164.7 1785.5 1165.5 C1786.4 1166.3 1787.2 1169.0 1787.6 1169.7" stroke="#FFCC00" stroke-dasharray="18.3 19.8 18.3 19.8 18.3 19.8 18.3 19.8 18.3 19.8 18.3 19.8 18.3 19.8 18.3 19.8 18.3 19.8 18.3 19.8 18.3 19.8 18.3 19.8 18.3 19.8 18.3 19.8 18.3 19.8 18.3 19.8 18.3 19.8 18.3 19.8 18.3 19.8 18.3 19.8 18.3 19.8 18.3 19.8 18.3 19.8 18.3 19.8 18.3 19.8 18.3 19.8 18.3 20.0 18.3 20.0 18.3 18.9 18.3 18.9 18.3 18.9 18.3 18.9 18.3 18.9 18.3 20.0 18.3 20.0 18.3 18.8 18.3 19.8 18.3 19.8 18.3 19.8 18.3 19.8 18.3 19.8 18.3 19.8 18.3 19.8 18.3 19.8 18.3 19.8 18.3 19.8 18.3 19.8 18.3 19.8 18.3 20000.0" stroke-dashoffset="-0.3"/>
<g stroke="none">
<polygon points="367.5,1168.0 357.5,1185.0 377.5,1185.0" fill="#FFCC00"/>
<polygon points="377.0,1165.7 367.0,1182.7 387.0,1182.7" fill="#FFCC00"/>
<polygon points="386.5,1163.2 376.5,1180.2 396.5,1180.2" fill="#FFCC00"/>
<polygon points="404.0,1154.7 394.0,1171.7 414.0,1171.7" fill="#FFCC00"/>
<polygon points="432.0,1127.2 422.0,1144.2 442.0,1144.2" fill="#FFCC00"/>
<polygon points="470.9,1006.2 460.9,1023.2 480.9,1023.2" fill="#FFCC00"/>
<polygon points="741.2,836.4 731.2,853.4 751.2,853.4" fill="#FFCC00"/>
<polygon points="1088.5,965.7 1078.5,982.7 1098.5,982.7" fill="#FFCC00"/>
<polygon points="1327.5,1098.1 1317.5,1115.1 1337.5,1115.1" fill="#FFCC00"/>
<polygon points="1410.7,1134.3 1400.7,1151.3 1420.7,1151.3" fill="#FFCC00"/>
<polygon points="1464.5,1137.8 1454.5,1154.8 1474.5,1154.8" fill="#FFCC00"/>
<polygon points="1518.9,1130.4 1508.9,1147.4 1528.9,1147.4" fill="#FFCC00"/>
<polygon points="1572.8,1129.4 1562.8,1146.4 1582.8,1146.4" fill="#FFCC00"/>
<polygon points="1627.6,1128.1 1617.6,1145.1 1637.6,1145.1" fill="#FFCC00"/>
<polygon points="1682.4,1126.9 1672.4,1143.9 1692.4,1143.9" fill="#FFCC00"/>
<polygon points="1738.2,1134.3 1728.2,1151.3 1748.2,1151.3" fill="#FFCC00"/>
<polygon points="1787.6,1158.9 1777.6,1175.9 1797.6,1175.9" fill="#FFCC00"/>
</g>
<path d="M355.5 1183.0 C357.4 1181.7 363.1 1177.5 367.0 1175.5 C370.9 1173.5 375.1 1172.1 378.7 1171.1 C382.3 1170.1 385.9 1171.0 388.5 1169.6 C391.1 1168.2 392.8 1165.5 394.4 1162.8 C396.0 1160.0 396.8 1156.6 398.3 1153.0 C399.8 1149.4 401.6 1145.0 403.2 1141.2 C404.8 1137.5 406.5 1134.2 408.1 1130.5 C409.7 1126.7 411.4 1122.6 413.0 1118.7 C414.6 1114.8 416.2 1111.1 417.9 1107.0 C419.5 1102.9 421.1 1098.3 422.8 1094.3 C424.4 1090.2 423.9 1089.9 427.7 1082.5 C431.4 1075.1 441.2 1058.0 445.2 1050.0 C449.3 1042.0 449.9 1039.9 452.2 1034.4 C454.5 1028.9 457.1 1022.8 459.2 1017.0 C461.2 1011.2 462.9 1005.4 464.4 999.6 C465.8 993.8 466.8 988.0 467.9 982.2 C468.9 976.4 469.6 970.6 470.5 964.8 C471.3 959.0 472.2 953.2 473.1 947.4 C474.0 941.6 474.7 935.3 475.7 930.0 C476.7 924.7 478.1 922.4 479.2 915.7 C480.3 909.0 481.2 898.2 482.5 889.6 C483.7 880.9 485.4 872.3 486.7 863.6 C488.1 854.9 489.5 845.9 490.7 837.4 C492.0 828.9 492.8 823.8 494.3 812.6 C495.8 801.3 498.0 784.7 499.8 770.1 C501.7 755.6 503.4 741.0 505.3 725.2 C507.2 709.3 509.4 691.0 511.5 675.1 C513.5 659.3 515.4 645.1 517.5 630.1 C519.5 615.0 521.7 599.6 523.8 585.0 C525.9 570.4 527.8 556.7 529.9 542.5 C532.0 528.3 534.3 513.3 536.4 500.0 C538.5 486.7 540.4 475.1 542.7 462.6 C544.9 450.2 547.2 437.6 549.9 425.1 C552.6 412.6 555.5 400.1 559.0 387.6 C562.4 375.1 566.6 361.5 570.6 350.3 C574.5 339.0 578.5 329.3 582.6 320.1 C586.7 310.9 590.6 303.3 595.2 295.2 C599.8 287.1 605.3 278.5 610.3 271.5 C615.3 264.4 620.4 258.3 625.4 252.9 C630.4 247.4 635.3 243.0 640.3 239.1 C645.3 235.1 650.3 231.8 655.3 229.2 C660.3 226.6 665.1 224.7 670.3 223.5 C675.4 222.2 681.0 221.5 686.4 221.6 C691.8 221.7 697.4 222.7 702.6 224.1 C707.7 225.6 712.5 227.6 717.5 230.3 C722.5 233.0 727.5 236.4 732.5 240.3 C737.5 244.2 742.6 248.7 747.6 253.9 C752.7 259.1 757.7 264.9 762.6 271.4 C767.6 277.8 772.9 285.4 777.6 292.6 C782.2 299.9 786.2 307.1 790.4 315.0 C794.6 322.9 798.9 331.7 802.7 340.1 C806.4 348.4 809.4 356.3 812.7 365.1 C816.1 373.9 820.0 384.3 822.7 392.6 C825.5 401.0 828.0 411.4 829.0 415.1 L833.0 442.6 L850.0 470.1 C853.4 475.5 862.9 490.5 870.0 502.6 C877.1 514.7 885.0 528.9 892.5 542.6 C900.1 556.4 907.7 570.9 915.2 585.1 C922.6 599.3 927.1 607.9 937.1 627.9 C947.2 647.8 965.0 683.6 975.5 704.8 C986.0 726.0 991.7 738.0 1000.0 755.1 C1008.3 772.2 1016.7 790.1 1025.0 807.6 C1033.4 825.1 1042.4 844.0 1049.8 860.2 C1057.3 876.5 1064.4 892.8 1069.9 905.2 C1075.5 917.6 1079.8 926.9 1083.2 934.8 C1086.5 942.8 1088.6 949.0 1090.1 952.7 C1091.6 956.3 1091.0 954.9 1092.2 956.5 C1093.4 958.2 1095.4 962.3 1097.4 962.6 C1099.5 962.9 1101.6 960.5 1104.4 958.3 C1107.1 956.1 1111.6 951.5 1114.0 949.6 C1116.3 947.7 1116.1 947.6 1118.3 947.0 C1120.5 946.4 1124.4 946.0 1127.0 946.1 C1129.6 946.2 1131.8 945.7 1134.0 947.4 C1136.1 949.1 1138.0 953.0 1140.1 956.5 C1142.1 960.1 1144.7 965.4 1146.1 968.7 C1147.6 972.1 1148.0 974.2 1148.8 976.6 C1149.6 978.9 1150.6 981.6 1150.9 982.6 L1163.1 978.7 C1165.7 979.0 1173.8 979.3 1178.7 980.3 C1183.6 981.3 1187.5 983.1 1192.4 984.6 C1197.3 986.1 1203.2 987.9 1208.1 989.5 C1213.0 991.1 1217.6 992.9 1221.8 994.4 C1226.0 995.9 1229.6 997.5 1233.5 998.3 C1237.5 999.1 1241.0 999.3 1245.3 999.3 C1249.5 999.3 1253.8 998.5 1259.0 998.3 C1264.2 998.1 1270.4 998.1 1276.6 997.9 C1282.8 997.7 1290.5 997.6 1296.2 997.3 C1301.9 997.1 1305.6 996.8 1310.9 996.3 C1316.1 995.9 1321.8 995.0 1327.5 994.4 C1333.2 993.7 1339.1 993.1 1345.1 992.4 C1351.2 991.8 1357.8 991.1 1363.7 990.5 C1369.6 989.9 1373.7 989.2 1380.4 988.9 C1387.0 988.6 1396.8 988.6 1403.8 988.5 C1410.9 988.4 1415.9 988.2 1422.4 988.1 C1429.0 988.1 1436.3 988.1 1443.0 988.1 C1449.7 988.2 1458.1 988.5 1462.6 988.5 C1467.1 988.6 1466.6 989.0 1470.0 988.5 C1473.4 988.0 1478.8 986.9 1482.7 985.6 C1486.6 984.3 1489.1 982.2 1493.5 980.7 C1497.9 979.2 1503.3 977.7 1509.2 976.8 C1515.0 975.8 1521.7 974.8 1528.7 974.8 C1535.7 974.8 1544.7 976.1 1551.2 976.8 C1557.8 977.4 1561.8 978.5 1567.9 978.7 C1573.9 979.0 1581.6 978.2 1587.5 978.3 C1593.3 978.5 1597.9 978.8 1603.1 979.7 C1608.3 980.6 1613.9 982.0 1618.8 983.6 C1623.7 985.3 1627.9 987.5 1632.5 989.5 C1637.0 991.5 1641.9 993.8 1646.2 995.8 C1650.4 997.7 1654.3 999.5 1657.9 1001.0 C1661.5 1002.5 1664.8 1004.4 1667.7 1004.8 C1670.7 1005.1 1673.1 1004.5 1675.5 1003.2 C1678.0 1001.9 1681.3 998.0 1682.4 996.9 L1689.2 990.5 L1695.1 997.3 C1696.8 999.8 1701.6 1006.6 1704.9 1012.0 C1708.2 1017.4 1711.4 1023.4 1714.7 1029.6 C1718.0 1035.8 1721.2 1042.3 1724.5 1049.2 C1727.7 1056.1 1731.0 1063.6 1734.3 1070.7 C1737.5 1077.9 1740.8 1085.1 1744.1 1092.3 C1747.3 1099.4 1751.2 1107.5 1753.8 1113.8 C1756.5 1120.1 1758.5 1125.1 1760.0 1130.0 C1761.5 1134.9 1762.2 1138.8 1763.0 1143.0 C1763.8 1147.2 1764.2 1151.3 1765.0 1155.0 C1765.8 1158.7 1766.5 1162.4 1767.5 1165.0 C1768.5 1167.6 1769.8 1169.4 1771.0 1170.5 C1772.2 1171.6 1773.6 1171.6 1775.0 1171.5 C1776.4 1171.4 1778.8 1170.2 1779.5 1170.0" stroke="#33CC66"/>
<path d="M355.5 1183.0 C361.0 1181.1 378.1 1175.8 388.5 1171.6 C398.9 1167.4 409.7 1162.0 417.9 1157.9 C426.0 1153.7 433.9 1148.9 437.5 1146.6 C441.0 1144.3 437.4 1144.3 439.2 1144.0 C440.9 1143.7 445.7 1144.6 447.9 1144.8 C450.0 1145.1 450.8 1146.3 452.2 1145.7 C453.7 1145.1 454.5 1142.8 456.6 1141.4 C458.6 1139.9 462.6 1138.9 464.4 1137.0 C466.1 1135.1 466.4 1132.7 467.0 1130.1 C467.6 1127.4 467.0 1123.4 467.9 1121.4 C468.7 1119.3 470.5 1119.3 472.2 1117.9 C474.0 1116.4 476.6 1115.4 478.3 1112.7 C480.0 1109.9 481.2 1105.0 482.7 1101.3 C484.1 1097.7 485.6 1094.7 487.0 1090.9 C488.5 1087.1 490.0 1082.8 491.4 1078.7 C492.7 1074.7 493.7 1070.3 494.8 1066.5 C496.0 1062.8 497.0 1059.6 498.3 1056.1 C499.6 1052.6 501.2 1048.9 502.7 1045.7 C504.1 1042.5 505.6 1039.1 507.0 1037.0 C508.5 1034.8 509.2 1035.1 511.4 1032.7 C513.5 1030.2 517.6 1025.1 520.1 1022.2 C522.5 1019.3 524.4 1018.3 526.2 1015.3 C527.9 1012.2 528.9 1008.0 530.5 1004.0 C532.1 999.9 534.0 995.3 535.7 990.9 C537.5 986.6 539.2 982.5 540.9 977.9 C542.7 973.2 544.4 968.1 546.2 963.1 C547.9 958.0 549.6 952.2 551.4 947.4 C553.1 942.6 553.3 939.6 556.6 934.4 C559.9 929.1 566.5 921.8 571.1 915.6 C575.7 909.4 579.7 903.0 584.0 897.2 C588.3 891.3 592.7 886.1 597.0 880.5 C601.3 875.0 605.6 869.1 609.9 863.9 C614.2 858.6 618.9 853.1 622.9 849.1 C626.9 845.1 630.6 842.1 634.0 839.8 C637.3 837.6 639.8 836.5 643.2 835.8 C646.6 835.0 651.4 834.9 654.3 835.2 C657.2 835.5 658.0 837.1 660.8 837.4 C663.5 837.7 666.8 837.6 670.9 837.1 C675.1 836.5 680.8 835.5 685.7 834.3 C690.7 833.1 695.3 831.4 700.5 829.7 C705.7 828.0 711.3 826.1 717.2 824.1 C723.0 822.1 729.8 819.4 735.6 817.7 C741.5 815.9 747.7 814.4 752.3 813.6 C756.9 812.8 758.7 812.8 763.4 812.7 C768.0 812.6 775.1 812.4 780.0 813.0 C784.9 813.7 790.8 816.1 793.0 816.7 L804.0 821.3 L815.1 818.9 C817.3 818.7 823.2 817.8 828.1 817.7 C833.0 817.5 839.5 817.5 844.7 818.0 C850.0 818.6 854.6 819.8 859.5 821.0 C864.4 822.1 869.4 823.6 874.3 825.0 C879.2 826.5 884.8 828.4 889.1 829.7 C893.4 830.9 894.0 830.2 900.0 832.6 C906.0 835.0 916.7 839.9 925.0 843.8 C933.4 847.8 941.7 852.2 950.0 856.4 C958.4 860.5 970.9 866.8 975.0 868.9 L1001.3 879.6 L1025.1 905.1 C1029.2 909.7 1041.7 923.5 1050.1 932.6 C1058.4 941.8 1066.8 951.0 1075.1 960.2 C1083.4 969.3 1092.6 978.4 1100.1 987.7 C1107.6 997.0 1113.4 1008.0 1120.0 1015.9 C1126.6 1023.9 1133.1 1029.0 1139.6 1035.5 C1146.1 1042.0 1152.6 1048.5 1159.2 1055.1 C1165.7 1061.6 1172.2 1068.1 1178.7 1074.6 C1185.3 1081.2 1191.8 1087.9 1198.3 1094.2 C1204.8 1100.6 1211.4 1106.9 1217.9 1112.8 C1224.4 1118.7 1230.9 1124.4 1237.5 1129.5 C1244.0 1134.5 1251.2 1139.4 1257.0 1143.2 C1262.9 1146.9 1268.8 1149.9 1272.7 1152.0 C1276.6 1154.1 1276.6 1155.1 1280.5 1155.9 C1284.4 1156.6 1291.0 1156.6 1296.2 1156.5 C1301.4 1156.3 1306.9 1155.7 1311.8 1154.9 C1316.7 1154.2 1322.0 1153.6 1325.5 1152.0 C1329.1 1150.3 1331.1 1147.1 1333.4 1145.1 C1335.7 1143.2 1337.0 1140.9 1339.2 1140.2 C1341.5 1139.6 1343.5 1140.1 1347.1 1141.2 C1350.7 1142.3 1356.2 1145.9 1360.8 1147.1 C1365.4 1148.2 1370.2 1148.1 1374.5 1148.1 C1378.7 1148.1 1383.0 1148.9 1386.2 1147.1 C1389.5 1145.3 1391.5 1139.7 1394.1 1137.3 C1396.7 1134.8 1399.3 1133.4 1401.9 1132.4 C1404.5 1131.4 1406.8 1130.7 1409.7 1131.0 C1412.7 1131.4 1415.6 1134.0 1419.5 1134.4 C1423.4 1134.7 1428.0 1133.9 1433.2 1133.4 C1438.4 1132.9 1445.0 1132.0 1450.8 1131.4 C1456.7 1130.8 1465.3 1130.2 1468.5 1129.9 C1471.6 1129.5 1465.8 1129.9 1470.0 1129.5 C1474.2 1129.1 1485.5 1128.2 1493.5 1127.5 C1501.5 1126.9 1508.8 1126.4 1518.0 1125.5 C1527.1 1124.7 1540.0 1123.3 1548.3 1122.6 C1556.6 1122.0 1561.4 1122.0 1567.9 1121.6 C1574.4 1121.3 1580.9 1120.7 1587.5 1120.7 C1594.0 1120.6 1598.9 1121.2 1607.0 1121.2 C1615.2 1121.2 1628.2 1120.9 1636.4 1120.7 C1644.6 1120.4 1650.1 1119.9 1656.0 1119.7 C1661.8 1119.4 1666.7 1119.2 1671.6 1119.1 C1676.5 1119.0 1680.8 1118.9 1685.3 1119.3 C1689.9 1119.7 1694.5 1120.9 1699.0 1121.6 C1703.6 1122.3 1708.5 1123.1 1712.7 1123.6 C1717.0 1124.1 1720.9 1123.9 1724.5 1124.6 C1728.1 1125.2 1731.3 1126.4 1734.3 1127.5 C1737.2 1128.6 1739.2 1130.5 1742.1 1131.4 C1745.0 1132.3 1749.4 1131.2 1751.9 1133.0 C1754.4 1134.7 1755.3 1139.8 1757.0 1142.0 C1758.7 1144.2 1760.5 1144.8 1762.0 1146.0 C1763.5 1147.2 1764.8 1147.7 1766.0 1149.0 C1767.2 1150.3 1768.1 1152.3 1769.0 1154.0 C1769.9 1155.7 1770.5 1157.8 1771.5 1159.0 C1772.5 1160.2 1773.8 1160.5 1775.0 1161.0 C1776.2 1161.5 1777.7 1161.2 1779.0 1162.0 C1780.3 1162.8 1781.8 1164.5 1783.0 1166.0 C1784.2 1167.5 1785.9 1170.2 1786.5 1171.0" stroke="#000000"/>
<path d="M355.5 1183.0 C356.8 1181.7 360.6 1177.0 363.0 1175.0 C365.4 1173.0 367.5 1172.2 370.0 1171.0 C372.5 1169.8 375.5 1168.3 378.0 1168.0 C380.5 1167.7 383.0 1169.8 385.0 1169.0 C387.0 1168.2 388.5 1165.8 390.0 1163.0 C391.5 1160.2 392.6 1156.7 394.0 1152.0 C395.4 1147.3 396.8 1140.5 398.3 1135.0 C399.8 1129.5 401.5 1124.6 403.2 1118.7 C404.9 1112.8 407.1 1105.7 408.7 1099.6 C410.3 1093.5 411.6 1088.0 413.1 1082.2 C414.5 1076.4 416.0 1070.6 417.4 1064.8 C418.9 1059.0 420.3 1053.2 421.8 1047.4 C423.2 1041.6 424.7 1036.5 426.1 1030.0 C427.6 1023.5 428.7 1015.1 430.5 1008.3 C432.2 1001.5 434.7 995.0 436.5 989.2 C438.4 983.4 440.0 979.0 441.8 973.5 C443.5 968.0 445.1 961.7 447.0 956.1 C448.9 950.5 451.3 946.7 453.1 940.0 C454.9 933.3 456.0 924.2 457.8 915.8 C459.5 907.4 461.5 898.3 463.5 889.6 C465.4 880.9 467.3 872.1 469.4 863.5 C471.6 854.8 474.3 845.3 476.5 837.6 C478.6 830.0 480.0 825.1 482.2 817.6 C484.4 810.0 486.9 801.7 489.7 792.6 C492.5 783.4 496.0 772.3 499.1 762.7 C502.1 753.2 504.7 744.8 507.8 735.2 C510.9 725.6 514.3 715.1 517.6 705.1 C520.8 695.1 524.1 685.5 527.4 675.0 C530.7 664.6 534.3 652.9 537.4 642.5 C540.5 632.1 543.2 622.5 546.2 612.5 C549.2 602.5 552.1 592.6 555.3 582.6 C558.5 572.6 561.8 562.7 565.4 552.6 C569.0 542.6 571.0 535.6 576.9 522.2 C582.8 508.7 595.4 483.1 601.0 471.9 C606.6 460.8 606.8 461.0 610.4 455.4 C614.0 449.7 618.5 443.3 622.6 437.8 C626.8 432.4 630.7 427.5 635.3 422.7 C639.9 417.9 645.1 412.9 650.1 408.8 C655.1 404.7 660.3 401.1 665.3 398.0 C670.3 394.9 675.2 392.5 680.2 390.3 C685.1 388.1 690.0 386.4 695.0 384.9 C700.0 383.4 705.1 382.3 710.2 381.4 C715.2 380.5 720.2 379.8 725.2 379.4 C730.2 379.0 735.2 378.8 740.2 378.8 C745.2 378.9 750.2 379.2 755.2 379.7 C760.2 380.3 765.2 381.1 770.2 382.1 C775.2 383.1 780.1 384.3 785.2 385.7 C790.2 387.0 795.3 388.7 800.3 390.4 C805.3 392.1 812.1 394.8 815.3 396.0 C818.6 397.3 816.5 396.5 819.8 398.0 C823.1 399.5 830.0 402.4 835.1 405.0 C840.1 407.6 845.3 410.5 850.2 413.5 C855.1 416.5 859.6 419.6 864.6 423.1 C869.6 426.7 875.1 430.8 880.2 434.8 C885.3 438.9 890.1 443.0 895.1 447.5 C900.1 451.9 905.0 456.6 910.0 461.4 C915.0 466.2 920.0 471.1 925.0 476.3 C930.1 481.5 935.1 486.9 940.1 492.5 C945.1 498.2 950.1 504.0 955.1 510.1 C960.1 516.2 964.9 522.3 970.0 529.0 C975.0 535.6 980.1 542.8 985.1 550.1 C990.1 557.4 994.9 564.8 1000.0 572.7 C1005.0 580.6 1010.3 589.0 1015.3 597.5 C1020.3 606.1 1025.3 614.9 1030.1 623.9 C1035.0 632.9 1039.1 640.7 1044.6 651.7 C1050.1 662.7 1057.5 678.0 1063.1 689.8 C1068.6 701.6 1072.8 711.2 1077.7 722.5 C1082.6 733.8 1087.8 746.4 1092.4 757.6 C1097.0 768.9 1100.9 778.8 1105.1 790.1 C1109.3 801.3 1113.7 813.9 1117.5 825.1 C1121.3 836.4 1124.5 846.7 1127.8 857.5 C1131.2 868.4 1134.5 879.3 1137.7 890.1 C1140.8 901.0 1144.3 914.3 1146.5 922.6 C1148.8 930.9 1149.2 932.0 1151.0 939.7 C1152.7 947.4 1155.3 959.2 1157.2 968.9 C1159.0 978.7 1160.8 989.5 1162.1 998.3 C1163.3 1007.1 1164.0 1015.6 1164.6 1021.8 C1165.3 1028.0 1165.6 1033.2 1165.8 1035.5 L1170.9 1047.2 C1172.5 1048.5 1177.1 1052.6 1180.7 1055.1 C1184.3 1057.5 1188.5 1060.1 1192.4 1061.9 C1196.3 1063.7 1200.6 1065.0 1204.2 1065.8 C1207.8 1066.7 1211.0 1067.3 1214.0 1066.8 C1216.9 1066.3 1219.2 1064.9 1221.8 1062.9 C1224.4 1060.9 1227.0 1057.7 1229.6 1055.1 C1232.2 1052.5 1234.8 1049.0 1237.5 1047.2 C1240.1 1045.4 1242.3 1044.7 1245.3 1044.3 C1248.2 1043.9 1252.5 1044.2 1255.1 1044.9 C1257.7 1045.5 1259.0 1047.2 1260.9 1048.2 C1262.9 1049.2 1264.5 1050.9 1266.8 1050.8 C1269.1 1050.6 1271.9 1048.3 1274.6 1047.2 C1277.4 1046.2 1279.9 1044.9 1283.5 1044.3 C1287.0 1043.7 1292.1 1043.7 1296.2 1043.7 C1300.3 1043.7 1303.7 1043.9 1307.9 1044.3 C1312.2 1044.7 1317.1 1045.8 1321.6 1045.9 C1326.2 1046.0 1331.4 1045.6 1335.3 1044.9 C1339.2 1044.2 1342.2 1042.7 1345.1 1041.8 C1348.1 1040.8 1349.7 1039.8 1353.0 1039.4 C1356.2 1039.0 1360.5 1039.6 1364.7 1039.4 C1368.9 1039.2 1373.5 1038.8 1378.4 1038.0 C1383.3 1037.3 1388.8 1035.9 1394.1 1035.1 C1399.3 1034.3 1404.0 1033.4 1409.7 1033.1 C1415.4 1032.9 1423.4 1032.7 1428.3 1033.5 C1433.2 1034.4 1435.3 1037.1 1439.1 1038.4 C1442.8 1039.7 1446.9 1041.2 1450.8 1041.4 C1454.7 1041.5 1459.4 1039.9 1462.6 1039.4 C1465.8 1038.9 1465.5 1038.6 1470.0 1038.4 C1474.5 1038.3 1482.9 1038.4 1489.6 1038.4 C1496.3 1038.4 1503.6 1038.5 1510.1 1038.4 C1516.7 1038.3 1523.0 1038.3 1528.7 1037.8 C1534.4 1037.4 1539.5 1036.9 1544.4 1035.5 C1549.3 1034.1 1553.5 1031.0 1558.1 1029.6 C1562.7 1028.3 1566.9 1027.6 1571.8 1027.3 C1576.7 1026.9 1583.2 1027.4 1587.5 1027.7 C1591.7 1027.9 1594.0 1027.8 1597.2 1028.6 C1600.5 1029.5 1603.8 1030.8 1607.0 1032.6 C1610.3 1034.4 1613.6 1037.9 1616.8 1039.4 C1620.1 1040.9 1621.7 1041.2 1626.6 1041.4 C1631.5 1041.5 1641.0 1040.2 1646.2 1040.4 C1651.4 1040.6 1654.7 1041.2 1657.9 1042.3 C1661.2 1043.5 1663.1 1045.1 1665.8 1047.2 C1668.4 1049.4 1670.3 1053.3 1673.6 1055.1 C1676.9 1056.9 1681.7 1056.9 1685.3 1058.0 C1688.9 1059.2 1691.9 1060.6 1695.1 1061.9 C1698.4 1063.2 1703.3 1065.2 1704.9 1065.8 L1715.7 1054.1 L1722.5 1064.9 C1724.2 1067.8 1728.7 1076.0 1732.3 1082.5 C1735.9 1089.0 1740.5 1097.2 1744.1 1104.0 C1747.7 1110.9 1750.9 1117.7 1753.8 1123.6 C1756.8 1129.5 1759.6 1134.3 1761.7 1139.2 C1763.8 1144.2 1765.2 1149.2 1766.5 1153.0 C1767.8 1156.8 1768.6 1159.6 1769.5 1162.0 C1770.4 1164.4 1770.9 1166.3 1772.0 1167.5 C1773.1 1168.7 1774.2 1168.8 1776.0 1169.0 C1777.8 1169.2 1781.4 1169.0 1782.5 1169.0" stroke="#FF0000"/>
<path d="M359.0 1182.0 C367.2 1179.8 393.4 1172.7 408.1 1168.6 C422.8 1164.6 439.2 1161.0 447.2 1157.9 C455.3 1154.8 454.0 1152.3 456.6 1150.0 C459.1 1147.7 460.5 1145.1 462.6 1144.0 C464.8 1142.8 467.0 1143.7 469.6 1143.1 C472.2 1142.5 475.4 1141.5 478.3 1140.5 C481.2 1139.5 484.4 1138.0 487.0 1137.0 C489.6 1136.0 492.2 1135.6 494.0 1134.4 C495.7 1133.2 496.4 1132.2 497.4 1130.1 C498.5 1127.9 499.3 1125.0 500.1 1121.4 C500.9 1117.7 501.6 1113.4 502.2 1108.3 C502.8 1103.2 503.0 1096.7 503.5 1090.9 C504.0 1085.1 504.8 1079.3 505.3 1073.5 C505.8 1067.7 506.1 1061.9 506.6 1056.1 C507.0 1050.3 507.5 1042.3 507.9 1038.7 C508.2 1035.1 508.5 1038.0 508.8 1034.4 C509.0 1030.8 509.3 1022.8 509.6 1017.0 C510.0 1011.2 510.5 1005.4 510.9 999.6 C511.4 993.8 511.6 986.6 512.2 982.2 C512.9 977.9 513.2 976.4 514.8 973.5 C516.4 970.6 519.2 967.7 521.8 964.8 C524.4 961.9 527.6 959.0 530.5 956.1 C533.4 953.2 536.3 950.3 539.2 947.4 C542.1 944.5 544.4 941.5 547.9 938.7 C551.4 935.9 556.4 934.6 560.0 930.4 C563.6 926.3 566.2 919.0 569.2 913.8 C572.3 908.6 575.4 903.3 578.5 899.0 C581.6 894.7 584.7 891.0 587.7 887.9 C590.8 884.8 593.6 882.2 597.0 880.5 C600.4 878.8 604.4 877.6 608.1 877.7 C611.8 877.9 615.8 879.4 619.2 881.4 C622.6 883.4 625.6 886.5 628.4 889.8 C631.2 893.0 634.6 899.0 635.8 900.8 L641.3 912.9 L648.7 903.6 C650.6 902.4 656.1 899.6 659.8 896.2 C663.5 892.8 667.2 887.4 670.9 883.3 C674.6 879.1 678.3 875.0 682.0 871.3 C685.7 867.6 689.1 864.5 693.1 861.1 C697.1 857.7 703.9 852.6 706.1 850.9 L719.0 843.9 L726.4 848.2 C727.9 848.9 732.2 851.3 735.6 852.4 C739.0 853.5 743.3 853.6 746.7 854.6 C750.1 855.6 752.3 857.2 756.0 858.3 C759.7 859.4 764.6 860.4 768.9 861.1 C773.2 861.8 776.6 862.1 781.9 862.4 C787.1 862.6 794.2 862.4 800.3 862.6 C806.5 862.7 812.7 862.8 818.8 863.3 C825.0 863.8 831.2 864.4 837.3 865.7 C843.5 867.0 849.7 869.3 855.8 871.3 C862.0 873.3 868.8 875.6 874.3 877.7 C879.8 879.9 884.8 882.6 889.1 884.2 C893.4 885.9 894.0 884.8 900.0 887.6 C906.0 890.5 916.7 896.4 925.0 901.4 C933.4 906.4 941.7 912.0 950.0 917.6 C958.4 923.3 966.7 928.7 975.0 935.1 C983.4 941.6 991.7 949.1 1000.1 956.4 C1008.4 963.7 1016.1 970.3 1025.1 978.9 C1034.0 987.5 1045.6 1001.3 1053.9 1007.9 C1062.2 1014.4 1068.4 1014.8 1074.8 1018.3 C1081.2 1021.8 1084.7 1023.9 1092.2 1028.8 C1099.7 1033.6 1113.4 1042.2 1120.0 1047.2 C1126.6 1052.3 1127.5 1055.2 1131.7 1059.0 C1136.0 1062.7 1140.9 1066.7 1145.4 1069.8 C1150.0 1072.9 1154.9 1076.0 1159.2 1077.6 C1163.4 1079.2 1167.3 1079.4 1170.9 1079.5 C1174.5 1079.6 1177.7 1078.8 1180.7 1078.2 C1183.6 1077.5 1184.9 1076.1 1188.5 1075.6 C1192.1 1075.2 1197.3 1075.5 1202.2 1075.6 C1207.1 1075.8 1212.0 1076.2 1217.9 1076.6 C1223.8 1077.0 1231.6 1077.5 1237.5 1078.2 C1243.3 1078.8 1248.2 1079.2 1253.1 1080.5 C1258.0 1081.9 1262.3 1083.8 1266.8 1086.4 C1271.4 1089.0 1276.3 1092.6 1280.5 1096.2 C1284.8 1099.8 1288.7 1104.3 1292.3 1107.9 C1295.9 1111.5 1298.1 1114.5 1302.1 1117.7 C1306.0 1121.0 1310.9 1123.9 1315.8 1127.5 C1320.7 1131.1 1326.5 1135.7 1331.4 1139.2 C1336.3 1142.8 1340.6 1145.9 1345.1 1149.0 C1349.7 1152.1 1354.6 1155.2 1358.8 1157.8 C1363.1 1160.5 1367.0 1163.9 1370.6 1164.7 C1374.2 1165.5 1377.1 1162.7 1380.4 1162.7 C1383.6 1162.7 1386.9 1164.4 1390.1 1164.7 C1393.4 1165.0 1397.0 1165.7 1399.9 1164.7 C1402.9 1163.7 1405.2 1160.9 1407.8 1158.8 C1410.4 1156.7 1412.7 1153.8 1415.6 1152.0 C1418.5 1150.2 1421.8 1148.9 1425.4 1148.1 C1429.0 1147.2 1432.6 1146.9 1437.1 1147.1 C1441.7 1147.2 1448.2 1148.7 1452.8 1149.0 C1457.4 1149.4 1461.7 1148.5 1464.5 1149.0 C1467.4 1149.5 1467.1 1152.1 1470.0 1152.0 C1472.9 1151.8 1477.8 1149.5 1481.7 1148.1 C1485.7 1146.6 1489.6 1144.5 1493.5 1143.2 C1497.4 1141.9 1501.0 1140.6 1505.2 1140.2 C1509.5 1139.8 1514.0 1140.7 1518.9 1140.8 C1523.8 1141.0 1529.4 1141.0 1534.6 1141.2 C1539.8 1141.4 1545.4 1142.2 1550.3 1142.2 C1555.2 1142.2 1560.2 1141.5 1564.0 1141.2 C1567.7 1140.9 1568.2 1140.7 1572.8 1140.2 C1577.3 1139.7 1585.7 1138.4 1591.4 1138.3 C1597.1 1138.1 1601.2 1139.2 1607.0 1139.2 C1612.9 1139.3 1620.1 1138.9 1626.6 1138.9 C1633.1 1138.9 1639.7 1139.4 1646.2 1139.2 C1652.7 1139.1 1659.7 1137.9 1665.8 1137.7 C1671.8 1137.4 1676.9 1137.4 1682.4 1137.7 C1687.9 1137.9 1693.7 1138.8 1699.0 1139.2 C1704.4 1139.7 1709.8 1139.7 1714.7 1140.2 C1719.6 1140.7 1724.5 1141.4 1728.4 1142.2 C1732.3 1143.0 1735.3 1144.2 1738.2 1145.1 C1741.1 1146.1 1743.3 1147.3 1746.0 1148.0 C1748.7 1148.7 1752.1 1148.4 1754.4 1149.3 C1756.7 1150.2 1758.0 1152.0 1759.7 1153.5 C1761.5 1155.0 1762.9 1156.7 1764.9 1158.4 C1766.9 1160.1 1769.8 1162.8 1771.8 1163.9 C1773.8 1165.1 1775.3 1165.2 1777.1 1165.3 C1778.8 1165.4 1780.9 1164.6 1782.3 1164.6 C1783.7 1164.6 1784.6 1164.7 1785.5 1165.5 C1786.4 1166.3 1787.2 1169.0 1787.6 1169.7" stroke="#FFCC00"/>
</g>
<g id="legend">
<rect x="1170" y="51" width="502" height="432" fill="#000" shape-rendering="crispEdges"/>
<rect x="1171" y="52" width="499" height="429" fill="#fff" shape-rendering="crispEdges"/>
<g shape-rendering="crispEdges">
<line x1="1189.4" y1="85.5" x2="1369.4" y2="85.5" stroke="#33CC66" stroke-width="5" stroke-linecap="round"/>
<line x1="1189.4" y1="136.0" x2="1369.4" y2="136.0" stroke="#FF0000" stroke-width="5" stroke-linecap="round"/>
<line x1="1189.4" y1="186.5" x2="1369.4" y2="186.5" stroke="#000000" stroke-width="5" stroke-linecap="round"/>
<line x1="1189.4" y1="237.5" x2="1369.4" y2="237.5" stroke="#FFCC00" stroke-width="5" stroke-linecap="round"/>
<line x1="1189.4" y1="288.5" x2="1369.4" y2="288.5" stroke="#33CC66" stroke-width="5" stroke-linecap="round" stroke-dasharray="17.9 20.1"/>
<polygon points="1279.7,277.9 1269.8,294.7 1289.6,294.7" fill="#33CC66"/>
<line x1="1189.4" y1="339.0" x2="1369.4" y2="339.0" stroke="#FF0000" stroke-width="5" stroke-linecap="round" stroke-dasharray="17.9 20.1"/>
<polygon points="1279.7,328.4 1269.8,345.2 1289.6,345.2" fill="#FF0000"/>
<line x1="1189.4" y1="390.0" x2="1369.4" y2="390.0" stroke="#000000" stroke-width="5" stroke-linecap="round" stroke-dasharray="17.9 20.1"/>
<polygon points="1279.7,379.4 1269.8,396.2 1289.6,396.2" fill="#000000"/>
<line x1="1189.4" y1="441.0" x2="1369.4" y2="441.0" stroke="#FFCC00" stroke-width="5" stroke-linecap="round" stroke-dasharray="17.9 20.1"/>
<polygon points="1279.7,430.4 1269.8,447.2 1289.6,447.2" fill="#FFCC00"/>
</g>
<g filter="url(#bw)">
<text transform="translate(1389.20 99.00) scale(1 1.045)" font-size="37.15" text-anchor="start">E1, HC-Model 1</text>
<text transform="translate(1389.20 149.50) scale(1 1.045)" font-size="37.15" text-anchor="start">E2, HC-Model 1</text>
<text transform="translate(1389.20 200.00) scale(1 1.045)" font-size="37.15" text-anchor="start">E3, HC-Model 1</text>
<text transform="translate(1389.20 251.00) scale(1 1.045)" font-size="37.15" text-anchor="start">E4, HC-Model 1</text>
<text transform="translate(1389.20 302.00) scale(1 1.045)" font-size="37.15" text-anchor="start">E1, HC-Model 2</text>
<text transform="translate(1389.20 352.50) scale(1 1.045)" font-size="37.15" text-anchor="start">E2, HC-Model 2</text>
<text transform="translate(1389.20 403.50) scale(1 1.045)" font-size="37.15" text-anchor="start">E3, HC-Model 2</text>
<text transform="translate(1389.20 454.50) scale(1 1.045)" font-size="37.15" text-anchor="start">E4, HC-Model 2</text>
</g>
</g>
</svg>
</body></html>
